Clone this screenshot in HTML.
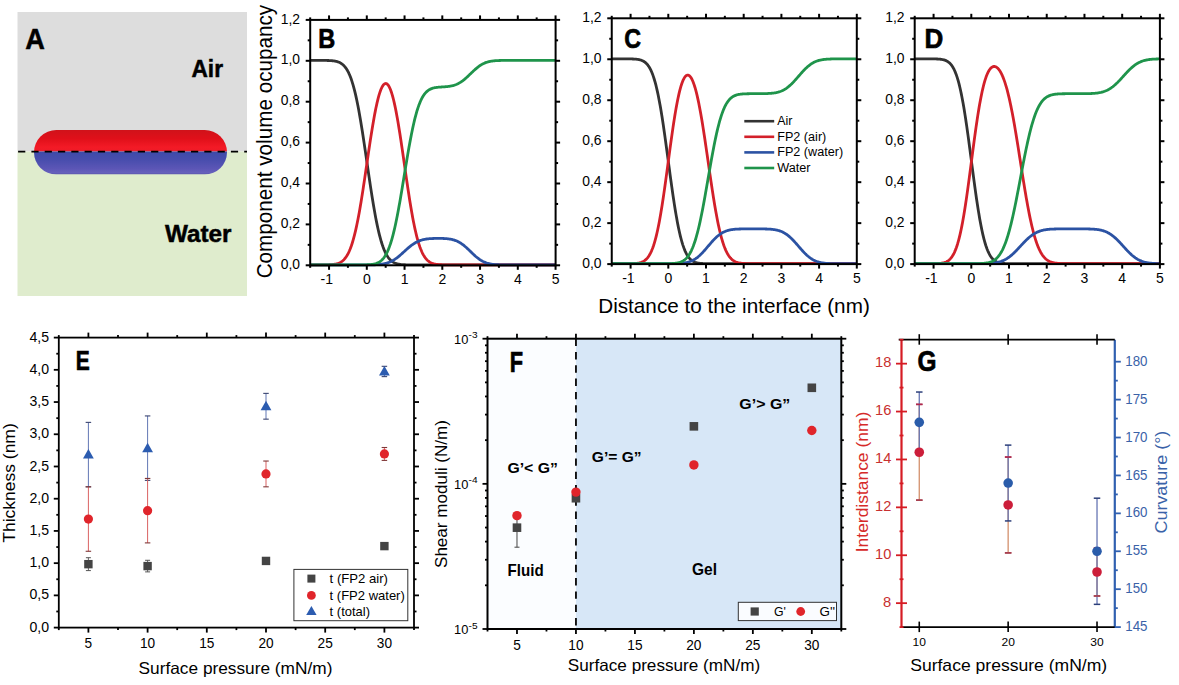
<!DOCTYPE html>
<html><head><meta charset="utf-8"><title>Figure</title>
<style>
html,body{margin:0;padding:0;background:#fff;}
svg{display:block;font-family:"Liberation Sans", sans-serif;}
</style></head>
<body>
<svg width="1179" height="685" viewBox="0 0 1179 685">
<rect x="0" y="0" width="1179" height="685" fill="#fff"/>
<rect x="17.5" y="12" width="229.5" height="139.5" fill="#dddddd"/>
<rect x="17.5" y="151.5" width="229.5" height="144.5" fill="#dfeccd"/>
<defs><linearGradient id="gr" x1="0" y1="0" x2="0" y2="1"><stop offset="0" stop-color="#d0121a"/><stop offset="0.4" stop-color="#e0101a"/><stop offset="0.8" stop-color="#f31a26"/><stop offset="1" stop-color="#ee1c28"/></linearGradient><linearGradient id="gb" x1="0" y1="0" x2="0" y2="1"><stop offset="0" stop-color="#3d4aa8"/><stop offset="0.4" stop-color="#4a4eae"/><stop offset="0.75" stop-color="#5c56b6"/><stop offset="0.92" stop-color="#6660bb"/><stop offset="1" stop-color="#5a54ac"/></linearGradient><clipPath id="capclip"><rect x="34" y="130" width="193" height="44.5" rx="22.25" ry="22.25"/></clipPath></defs>
<g clip-path="url(#capclip)"><rect x="34" y="130" width="193" height="21.5" fill="url(#gr)"/><rect x="34" y="151.5" width="193" height="23.0" fill="url(#gb)"/></g>
<line x1="18.1" y1="151.6" x2="247" y2="151.6" stroke="#000" stroke-width="1.9" stroke-dasharray="7.2 6.1"/>
<text x="25.2" y="49" font-size="29.5" text-anchor="start" fill="#000" font-weight="bold" textLength="19.6" lengthAdjust="spacingAndGlyphs" stroke="#000" stroke-width="0.5">A</text>
<text x="191.5" y="76.8" font-size="23.5" text-anchor="start" fill="#000" font-weight="bold" textLength="31.5" lengthAdjust="spacingAndGlyphs" stroke="#000" stroke-width="0.5">Air</text>
<text x="165" y="241.6" font-size="24.5" text-anchor="start" fill="#000" font-weight="bold" textLength="66.5" lengthAdjust="spacingAndGlyphs" stroke="#000" stroke-width="0.5">Water</text>
<polyline points="310.18,60.4 310.79,60.4 311.4,60.4 312.02,60.4 312.63,60.4 313.24,60.4 313.86,60.4 314.47,60.4 315.08,60.4 315.7,60.4 316.31,60.4 316.92,60.4 317.54,60.4 318.15,60.4 318.76,60.4 319.38,60.41 319.99,60.41 320.6,60.41 321.22,60.41 321.83,60.41 322.44,60.42 323.06,60.42 323.67,60.43 324.28,60.43 324.9,60.44 325.51,60.45 326.12,60.46 326.74,60.47 327.35,60.48 327.96,60.5 328.58,60.52 329.19,60.55 329.81,60.57 330.42,60.61 331.03,60.65 331.65,60.69 332.26,60.75 332.87,60.81 333.49,60.88 334.1,60.96 334.71,61.06 335.33,61.17 335.94,61.3 336.55,61.45 337.17,61.61 337.78,61.8 338.39,62.02 339.01,62.26 339.62,62.54 340.23,62.85 340.85,63.2 341.46,63.59 342.07,64.03 342.69,64.52 343.3,65.07 343.91,65.67 344.53,66.34 345.14,67.07 345.75,67.88 346.37,68.77 346.98,69.74 347.59,70.8 348.21,71.96 348.82,73.21 349.44,74.57 350.05,76.03 350.66,77.61 351.28,79.31 351.89,81.12 352.5,83.06 353.12,85.12 353.73,87.32 354.34,89.64 354.96,92.1 355.57,94.68 356.18,97.4 356.8,100.26 357.41,103.24 358.02,106.35 358.64,109.58 359.25,112.93 359.86,116.4 360.48,119.98 361.09,123.66 361.7,127.44 362.32,131.31 362.93,135.25 363.54,139.27 364.16,143.34 364.77,147.47 365.38,151.64 366,155.84 366.61,160.05 367.22,164.27 367.84,168.49 368.45,172.69 369.06,176.87 369.68,181.01 370.29,185.1 370.91,189.13 371.52,193.09 372.13,196.97 372.75,200.77 373.36,204.48 373.97,208.08 374.59,211.58 375.2,214.96 375.81,218.22 376.43,221.36 377.04,224.37 377.65,227.25 378.27,230 378.88,232.62 379.49,235.11 380.11,237.46 380.72,239.68 381.33,241.78 381.95,243.74 382.56,245.59 383.17,247.31 383.79,248.91 384.4,250.4 385.01,251.78 385.63,253.06 386.24,254.24 386.85,255.32 387.47,256.31 388.08,257.22 388.69,258.05 389.31,258.8 389.92,259.48 390.54,260.1 391.15,260.66 391.76,261.16 392.38,261.61 392.99,262.01 393.6,262.37 394.22,262.69 394.83,262.98 395.44,263.23 396.06,263.45 396.67,263.65 397.28,263.82 397.9,263.97 398.51,264.1 399.12,264.21 399.74,264.31 400.35,264.4 400.96,264.48 401.58,264.54 402.19,264.6 402.8,264.64 403.42,264.68 404.03,264.72 404.64,264.75 405.26,264.77 405.87,264.79 406.48,264.81 407.1,264.83 407.71,264.84 408.33,264.85 408.94,264.86 409.55,264.87 410.17,264.87 410.78,264.88 411.39,264.88 412.01,264.89 412.62,264.89 413.23,264.89 413.85,264.89 414.46,264.89 415.07,264.89 415.69,264.9 416.3,264.9 416.91,264.9 417.53,264.9 418.14,264.9 418.75,264.9 419.37,264.9 419.98,264.9 420.59,264.9 421.21,264.9 421.82,264.9 422.43,264.9 423.05,264.9 423.66,264.9 424.27,264.9 424.89,264.9 425.5,264.9 426.11,264.9 426.73,264.9 427.34,264.9 427.96,264.9 428.57,264.9 429.18,264.9 429.8,264.9 430.41,264.9 431.02,264.9 431.64,264.9 432.25,264.9 432.86,264.9 433.48,264.9 434.09,264.9 434.7,264.9 435.32,264.9 435.93,264.9 436.54,264.9 437.16,264.9 437.77,264.9 438.38,264.9 439,264.9 439.61,264.9 440.22,264.9 440.84,264.9 441.45,264.9 442.06,264.9 442.68,264.9 443.29,264.9 443.9,264.9 444.52,264.9 445.13,264.9 445.74,264.9 446.36,264.9 446.97,264.9 447.59,264.9 448.2,264.9 448.81,264.9 449.43,264.9 450.04,264.9 450.65,264.9 451.27,264.9 451.88,264.9 452.49,264.9 453.11,264.9 453.72,264.9 454.33,264.9 454.95,264.9 455.56,264.9 456.17,264.9 456.79,264.9 457.4,264.9 458.01,264.9 458.63,264.9 459.24,264.9 459.85,264.9 460.47,264.9 461.08,264.9 461.69,264.9 462.31,264.9 462.92,264.9 463.53,264.9 464.15,264.9 464.76,264.9 465.37,264.9 465.99,264.9 466.6,264.9 467.22,264.9 467.83,264.9 468.44,264.9 469.06,264.9 469.67,264.9 470.28,264.9 470.9,264.9 471.51,264.9 472.12,264.9 472.74,264.9 473.35,264.9 473.96,264.9 474.58,264.9 475.19,264.9 475.8,264.9 476.42,264.9 477.03,264.9 477.64,264.9 478.26,264.9 478.87,264.9 479.48,264.9 480.1,264.9 480.71,264.9 481.32,264.9 481.94,264.9 482.55,264.9 483.16,264.9 483.78,264.9 484.39,264.9 485,264.9 485.62,264.9 486.23,264.9 486.85,264.9 487.46,264.9 488.07,264.9 488.69,264.9 489.3,264.9 489.91,264.9 490.53,264.9 491.14,264.9 491.75,264.9 492.37,264.9 492.98,264.9 493.59,264.9 494.21,264.9 494.82,264.9 495.43,264.9 496.05,264.9 496.66,264.9 497.27,264.9 497.89,264.9 498.5,264.9 499.11,264.9 499.73,264.9 500.34,264.9 500.95,264.9 501.57,264.9 502.18,264.9 502.79,264.9 503.41,264.9 504.02,264.9 504.63,264.9 505.25,264.9 505.86,264.9 506.48,264.9 507.09,264.9 507.7,264.9 508.32,264.9 508.93,264.9 509.54,264.9 510.16,264.9 510.77,264.9 511.38,264.9 512,264.9 512.61,264.9 513.22,264.9 513.84,264.9 514.45,264.9 515.06,264.9 515.68,264.9 516.29,264.9 516.9,264.9 517.52,264.9 518.13,264.9 518.74,264.9 519.36,264.9 519.97,264.9 520.58,264.9 521.2,264.9 521.81,264.9 522.42,264.9 523.04,264.9 523.65,264.9 524.26,264.9 524.88,264.9 525.49,264.9 526.11,264.9 526.72,264.9 527.33,264.9 527.95,264.9 528.56,264.9 529.17,264.9 529.79,264.9 530.4,264.9 531.01,264.9 531.63,264.9 532.24,264.9 532.85,264.9 533.47,264.9 534.08,264.9 534.69,264.9 535.31,264.9 535.92,264.9 536.53,264.9 537.15,264.9 537.76,264.9 538.37,264.9 538.99,264.9 539.6,264.9 540.21,264.9 540.83,264.9 541.44,264.9 542.05,264.9 542.67,264.9 543.28,264.9 543.89,264.9 544.51,264.9 545.12,264.9 545.74,264.9 546.35,264.9 546.96,264.9 547.58,264.9 548.19,264.9 548.8,264.9 549.42,264.9 550.03,264.9 550.64,264.9 551.26,264.9 551.87,264.9 552.48,264.9 553.1,264.9 553.71,264.9 554.32,264.9 554.94,264.9 555.55,264.9" fill="none" stroke="#333333" stroke-width="2.8" stroke-linejoin="round"/>
<polyline points="310.18,264.9 310.79,264.9 311.4,264.9 312.02,264.9 312.63,264.9 313.24,264.9 313.86,264.9 314.47,264.9 315.08,264.9 315.7,264.9 316.31,264.9 316.92,264.9 317.54,264.9 318.15,264.9 318.76,264.9 319.38,264.89 319.99,264.89 320.6,264.89 321.22,264.89 321.83,264.89 322.44,264.88 323.06,264.88 323.67,264.87 324.28,264.87 324.9,264.86 325.51,264.85 326.12,264.84 326.74,264.83 327.35,264.82 327.96,264.8 328.58,264.78 329.19,264.75 329.81,264.73 330.42,264.69 331.03,264.65 331.65,264.61 332.26,264.55 332.87,264.49 333.49,264.42 334.1,264.34 334.71,264.24 335.33,264.13 335.94,264 336.55,263.85 337.17,263.69 337.78,263.5 338.39,263.28 339.01,263.04 339.62,262.76 340.23,262.45 340.85,262.1 341.46,261.71 342.07,261.27 342.69,260.78 343.3,260.23 343.91,259.63 344.53,258.96 345.14,258.23 345.75,257.42 346.37,256.53 346.98,255.56 347.59,254.5 348.21,253.34 348.82,252.09 349.44,250.73 350.05,249.27 350.66,247.69 351.28,245.99 351.89,244.18 352.5,242.24 353.12,240.18 353.73,237.99 354.34,235.66 354.96,233.21 355.57,230.62 356.18,227.9 356.8,225.05 357.41,222.07 358.02,218.96 358.64,215.73 359.25,212.38 359.86,208.91 360.48,205.34 361.09,201.66 361.7,197.89 362.32,194.03 362.93,190.09 363.54,186.08 364.16,182.01 364.77,177.9 365.38,173.75 366,169.57 366.61,165.37 367.22,161.18 367.84,156.99 368.45,152.82 369.06,148.69 369.68,144.6 370.29,140.56 370.91,136.6 371.52,132.71 372.13,128.92 372.75,125.22 373.36,121.64 373.97,118.17 374.59,114.83 375.2,111.63 375.81,108.57 376.43,105.67 377.04,102.92 377.65,100.34 378.27,97.93 378.88,95.69 379.49,93.63 380.11,91.75 380.72,90.06 381.33,88.55 381.95,87.24 382.56,86.13 383.17,85.21 383.79,84.48 384.4,83.96 385.01,83.64 385.63,83.51 386.24,83.59 386.85,83.87 387.47,84.35 388.08,85.04 388.69,85.92 389.31,87 389.92,88.28 390.54,89.76 391.15,91.44 391.76,93.3 392.38,95.35 392.99,97.59 393.6,100.01 394.22,102.61 394.83,105.37 395.44,108.31 396.06,111.4 396.67,114.64 397.28,118.02 397.9,121.54 398.51,125.19 399.12,128.95 399.74,132.81 400.35,136.77 400.96,140.81 401.58,144.93 402.19,149.1 402.8,153.31 403.42,157.57 404.03,161.84 404.64,166.12 405.26,170.39 405.87,174.65 406.48,178.88 407.1,183.06 407.71,187.2 408.33,191.27 408.94,195.26 409.55,199.17 410.17,202.99 410.78,206.7 411.39,210.31 412.01,213.8 412.62,217.16 413.23,220.41 413.85,223.52 414.46,226.49 415.07,229.34 415.69,232.04 416.3,234.61 416.91,237.04 417.53,239.33 418.14,241.48 418.75,243.51 419.37,245.4 419.98,247.17 420.59,248.82 421.21,250.34 421.82,251.76 422.43,253.06 423.05,254.26 423.66,255.36 424.27,256.37 424.89,257.29 425.5,258.13 426.11,258.89 426.73,259.58 427.34,260.2 427.96,260.75 428.57,261.26 429.18,261.7 429.8,262.1 430.41,262.46 431.02,262.78 431.64,263.06 432.25,263.3 432.86,263.52 433.48,263.71 434.09,263.88 434.7,264.03 435.32,264.15 435.93,264.26 436.54,264.36 437.16,264.44 437.77,264.51 438.38,264.57 439,264.62 439.61,264.67 440.22,264.71 440.84,264.74 441.45,264.76 442.06,264.79 442.68,264.81 443.29,264.82 443.9,264.84 444.52,264.85 445.13,264.86 445.74,264.86 446.36,264.87 446.97,264.88 447.59,264.88 448.2,264.88 448.81,264.89 449.43,264.89 450.04,264.89 450.65,264.89 451.27,264.89 451.88,264.9 452.49,264.9 453.11,264.9 453.72,264.9 454.33,264.9 454.95,264.9 455.56,264.9 456.17,264.9 456.79,264.9 457.4,264.9 458.01,264.9 458.63,264.9 459.24,264.9 459.85,264.9 460.47,264.9 461.08,264.9 461.69,264.9 462.31,264.9 462.92,264.9 463.53,264.9 464.15,264.9 464.76,264.9 465.37,264.9 465.99,264.9 466.6,264.9 467.22,264.9 467.83,264.9 468.44,264.9 469.06,264.9 469.67,264.9 470.28,264.9 470.9,264.9 471.51,264.9 472.12,264.9 472.74,264.9 473.35,264.9 473.96,264.9 474.58,264.9 475.19,264.9 475.8,264.9 476.42,264.9 477.03,264.9 477.64,264.9 478.26,264.9 478.87,264.9 479.48,264.9 480.1,264.9 480.71,264.9 481.32,264.9 481.94,264.9 482.55,264.9 483.16,264.9 483.78,264.9 484.39,264.9 485,264.9 485.62,264.9 486.23,264.9 486.85,264.9 487.46,264.9 488.07,264.9 488.69,264.9 489.3,264.9 489.91,264.9 490.53,264.9 491.14,264.9 491.75,264.9 492.37,264.9 492.98,264.9 493.59,264.9 494.21,264.9 494.82,264.9 495.43,264.9 496.05,264.9 496.66,264.9 497.27,264.9 497.89,264.9 498.5,264.9 499.11,264.9 499.73,264.9 500.34,264.9 500.95,264.9 501.57,264.9 502.18,264.9 502.79,264.9 503.41,264.9 504.02,264.9 504.63,264.9 505.25,264.9 505.86,264.9 506.48,264.9 507.09,264.9 507.7,264.9 508.32,264.9 508.93,264.9 509.54,264.9 510.16,264.9 510.77,264.9 511.38,264.9 512,264.9 512.61,264.9 513.22,264.9 513.84,264.9 514.45,264.9 515.06,264.9 515.68,264.9 516.29,264.9 516.9,264.9 517.52,264.9 518.13,264.9 518.74,264.9 519.36,264.9 519.97,264.9 520.58,264.9 521.2,264.9 521.81,264.9 522.42,264.9 523.04,264.9 523.65,264.9 524.26,264.9 524.88,264.9 525.49,264.9 526.11,264.9 526.72,264.9 527.33,264.9 527.95,264.9 528.56,264.9 529.17,264.9 529.79,264.9 530.4,264.9 531.01,264.9 531.63,264.9 532.24,264.9 532.85,264.9 533.47,264.9 534.08,264.9 534.69,264.9 535.31,264.9 535.92,264.9 536.53,264.9 537.15,264.9 537.76,264.9 538.37,264.9 538.99,264.9 539.6,264.9 540.21,264.9 540.83,264.9 541.44,264.9 542.05,264.9 542.67,264.9 543.28,264.9 543.89,264.9 544.51,264.9 545.12,264.9 545.74,264.9 546.35,264.9 546.96,264.9 547.58,264.9 548.19,264.9 548.8,264.9 549.42,264.9 550.03,264.9 550.64,264.9 551.26,264.9 551.87,264.9 552.48,264.9 553.1,264.9 553.71,264.9 554.32,264.9 554.94,264.9 555.55,264.9" fill="none" stroke="#d3202a" stroke-width="2.8" stroke-linejoin="round"/>
<polyline points="310.18,264.9 310.79,264.9 311.4,264.9 312.02,264.9 312.63,264.9 313.24,264.9 313.86,264.9 314.47,264.9 315.08,264.9 315.7,264.9 316.31,264.9 316.92,264.9 317.54,264.9 318.15,264.9 318.76,264.9 319.38,264.9 319.99,264.9 320.6,264.9 321.22,264.9 321.83,264.9 322.44,264.9 323.06,264.9 323.67,264.9 324.28,264.9 324.9,264.9 325.51,264.9 326.12,264.9 326.74,264.9 327.35,264.9 327.96,264.9 328.58,264.9 329.19,264.9 329.81,264.9 330.42,264.9 331.03,264.9 331.65,264.9 332.26,264.9 332.87,264.9 333.49,264.9 334.1,264.9 334.71,264.9 335.33,264.9 335.94,264.9 336.55,264.9 337.17,264.9 337.78,264.9 338.39,264.9 339.01,264.9 339.62,264.9 340.23,264.9 340.85,264.9 341.46,264.9 342.07,264.9 342.69,264.9 343.3,264.9 343.91,264.9 344.53,264.9 345.14,264.9 345.75,264.9 346.37,264.9 346.98,264.9 347.59,264.9 348.21,264.9 348.82,264.9 349.44,264.9 350.05,264.9 350.66,264.9 351.28,264.9 351.89,264.9 352.5,264.9 353.12,264.9 353.73,264.9 354.34,264.9 354.96,264.9 355.57,264.9 356.18,264.9 356.8,264.9 357.41,264.9 358.02,264.9 358.64,264.9 359.25,264.9 359.86,264.9 360.48,264.9 361.09,264.9 361.7,264.9 362.32,264.9 362.93,264.89 363.54,264.89 364.16,264.89 364.77,264.89 365.38,264.89 366,264.89 366.61,264.88 367.22,264.88 367.84,264.88 368.45,264.87 369.06,264.87 369.68,264.86 370.29,264.85 370.91,264.84 371.52,264.83 372.13,264.82 372.75,264.81 373.36,264.79 373.97,264.78 374.59,264.76 375.2,264.73 375.81,264.71 376.43,264.68 377.04,264.64 377.65,264.6 378.27,264.56 378.88,264.51 379.49,264.45 380.11,264.39 380.72,264.32 381.33,264.25 381.95,264.16 382.56,264.07 383.17,263.96 383.79,263.85 384.4,263.72 385.01,263.58 385.63,263.43 386.24,263.27 386.85,263.09 387.47,262.9 388.08,262.7 388.69,262.47 389.31,262.23 389.92,261.98 390.54,261.71 391.15,261.42 391.76,261.11 392.38,260.78 392.99,260.44 393.6,260.08 394.22,259.7 394.83,259.3 395.44,258.89 396.06,258.46 396.67,258.01 397.28,257.55 397.9,257.07 398.51,256.58 399.12,256.08 399.74,255.56 400.35,255.04 400.96,254.5 401.58,253.96 402.19,253.41 402.8,252.85 403.42,252.3 404.03,251.74 404.64,251.18 405.26,250.62 405.87,250.06 406.48,249.51 407.1,248.96 407.71,248.42 408.33,247.89 408.94,247.37 409.55,246.86 410.17,246.37 410.78,245.88 411.39,245.41 412.01,244.96 412.62,244.52 413.23,244.1 413.85,243.7 414.46,243.31 415.07,242.94 415.69,242.59 416.3,242.25 416.91,241.94 417.53,241.64 418.14,241.36 418.75,241.1 419.37,240.85 419.98,240.62 420.59,240.41 421.21,240.21 421.82,240.02 422.43,239.85 423.05,239.7 423.66,239.56 424.27,239.42 424.89,239.3 425.5,239.2 426.11,239.1 426.73,239.01 427.34,238.93 427.96,238.86 428.57,238.79 429.18,238.73 429.8,238.68 430.41,238.64 431.02,238.59 431.64,238.56 432.25,238.53 432.86,238.5 433.48,238.48 434.09,238.46 434.7,238.44 435.32,238.43 435.93,238.42 436.54,238.41 437.16,238.4 437.77,238.4 438.38,238.4 439,238.4 439.61,238.41 440.22,238.41 440.84,238.42 441.45,238.44 442.06,238.45 442.68,238.47 443.29,238.49 443.9,238.52 444.52,238.55 445.13,238.59 445.74,238.63 446.36,238.67 446.97,238.73 447.59,238.79 448.2,238.86 448.81,238.93 449.43,239.02 450.04,239.12 450.65,239.22 451.27,239.34 451.88,239.47 452.49,239.62 453.11,239.77 453.72,239.95 454.33,240.13 454.95,240.34 455.56,240.56 456.17,240.8 456.79,241.06 457.4,241.34 458.01,241.63 458.63,241.95 459.24,242.29 459.85,242.64 460.47,243.02 461.08,243.42 461.69,243.83 462.31,244.27 462.92,244.72 463.53,245.2 464.15,245.69 464.76,246.2 465.37,246.72 465.99,247.26 466.6,247.81 467.22,248.37 467.83,248.94 468.44,249.52 469.06,250.1 469.67,250.69 470.28,251.29 470.9,251.88 471.51,252.48 472.12,253.07 472.74,253.65 473.35,254.23 473.96,254.8 474.58,255.37 475.19,255.92 475.8,256.46 476.42,256.98 477.03,257.49 477.64,257.98 478.26,258.45 478.87,258.91 479.48,259.35 480.1,259.77 480.71,260.17 481.32,260.54 481.94,260.9 482.55,261.24 483.16,261.56 483.78,261.86 484.39,262.13 485,262.39 485.62,262.64 486.23,262.86 486.85,263.07 487.46,263.26 488.07,263.43 488.69,263.59 489.3,263.73 489.91,263.87 490.53,263.99 491.14,264.09 491.75,264.19 492.37,264.28 492.98,264.36 493.59,264.42 494.21,264.49 494.82,264.54 495.43,264.59 496.05,264.63 496.66,264.67 497.27,264.7 497.89,264.73 498.5,264.76 499.11,264.78 499.73,264.8 500.34,264.81 500.95,264.83 501.57,264.84 502.18,264.85 502.79,264.86 503.41,264.86 504.02,264.87 504.63,264.88 505.25,264.88 505.86,264.88 506.48,264.89 507.09,264.89 507.7,264.89 508.32,264.89 508.93,264.89 509.54,264.9 510.16,264.9 510.77,264.9 511.38,264.9 512,264.9 512.61,264.9 513.22,264.9 513.84,264.9 514.45,264.9 515.06,264.9 515.68,264.9 516.29,264.9 516.9,264.9 517.52,264.9 518.13,264.9 518.74,264.9 519.36,264.9 519.97,264.9 520.58,264.9 521.2,264.9 521.81,264.9 522.42,264.9 523.04,264.9 523.65,264.9 524.26,264.9 524.88,264.9 525.49,264.9 526.11,264.9 526.72,264.9 527.33,264.9 527.95,264.9 528.56,264.9 529.17,264.9 529.79,264.9 530.4,264.9 531.01,264.9 531.63,264.9 532.24,264.9 532.85,264.9 533.47,264.9 534.08,264.9 534.69,264.9 535.31,264.9 535.92,264.9 536.53,264.9 537.15,264.9 537.76,264.9 538.37,264.9 538.99,264.9 539.6,264.9 540.21,264.9 540.83,264.9 541.44,264.9 542.05,264.9 542.67,264.9 543.28,264.9 543.89,264.9 544.51,264.9 545.12,264.9 545.74,264.9 546.35,264.9 546.96,264.9 547.58,264.9 548.19,264.9 548.8,264.9 549.42,264.9 550.03,264.9 550.64,264.9 551.26,264.9 551.87,264.9 552.48,264.9 553.1,264.9 553.71,264.9 554.32,264.9 554.94,264.9 555.55,264.9" fill="none" stroke="#2b52a3" stroke-width="2.8" stroke-linejoin="round"/>
<polyline points="310.18,264.9 310.79,264.9 311.4,264.9 312.02,264.9 312.63,264.9 313.24,264.9 313.86,264.9 314.47,264.9 315.08,264.9 315.7,264.9 316.31,264.9 316.92,264.9 317.54,264.9 318.15,264.9 318.76,264.9 319.38,264.9 319.99,264.9 320.6,264.9 321.22,264.9 321.83,264.9 322.44,264.9 323.06,264.9 323.67,264.9 324.28,264.9 324.9,264.9 325.51,264.9 326.12,264.9 326.74,264.9 327.35,264.9 327.96,264.9 328.58,264.9 329.19,264.9 329.81,264.9 330.42,264.9 331.03,264.9 331.65,264.9 332.26,264.9 332.87,264.9 333.49,264.9 334.1,264.9 334.71,264.9 335.33,264.9 335.94,264.9 336.55,264.9 337.17,264.9 337.78,264.9 338.39,264.9 339.01,264.9 339.62,264.9 340.23,264.9 340.85,264.9 341.46,264.9 342.07,264.9 342.69,264.9 343.3,264.9 343.91,264.9 344.53,264.9 345.14,264.9 345.75,264.9 346.37,264.9 346.98,264.9 347.59,264.9 348.21,264.9 348.82,264.9 349.44,264.9 350.05,264.9 350.66,264.9 351.28,264.9 351.89,264.9 352.5,264.9 353.12,264.9 353.73,264.9 354.34,264.9 354.96,264.9 355.57,264.9 356.18,264.9 356.8,264.9 357.41,264.89 358.02,264.89 358.64,264.89 359.25,264.89 359.86,264.89 360.48,264.89 361.09,264.88 361.7,264.88 362.32,264.87 362.93,264.87 363.54,264.86 364.16,264.85 364.77,264.84 365.38,264.83 366,264.81 366.61,264.79 367.22,264.77 367.84,264.74 368.45,264.71 369.06,264.68 369.68,264.64 370.29,264.59 370.91,264.53 371.52,264.46 372.13,264.38 372.75,264.3 373.36,264.19 373.97,264.07 374.59,263.94 375.2,263.78 375.81,263.6 376.43,263.4 377.04,263.17 377.65,262.91 378.27,262.62 378.88,262.29 379.49,261.92 380.11,261.5 380.72,261.04 381.33,260.52 381.95,259.95 382.56,259.32 383.17,258.62 383.79,257.86 384.4,257.02 385.01,256.1 385.63,255.09 386.24,254 386.85,252.82 387.47,251.53 388.08,250.15 388.69,248.66 389.31,247.06 389.92,245.35 390.54,243.53 391.15,241.59 391.76,239.53 392.38,237.35 392.99,235.06 393.6,232.64 394.22,230.1 394.83,227.45 395.44,224.68 396.06,221.79 396.67,218.8 397.28,215.71 397.9,212.52 398.51,209.23 399.12,205.86 399.74,202.41 400.35,198.89 400.96,195.31 401.58,191.68 402.19,188 402.8,184.29 403.42,180.55 404.03,176.81 404.64,173.06 405.26,169.32 405.87,165.6 406.48,161.9 407.1,158.25 407.71,154.64 408.33,151.09 408.94,147.61 409.55,144.2 410.17,140.87 410.78,137.64 411.39,134.5 412.01,131.46 412.62,128.53 413.23,125.7 413.85,122.99 414.46,120.4 415.07,117.93 415.69,115.58 416.3,113.34 416.91,111.23 417.53,109.23 418.14,107.36 418.75,105.6 419.37,103.95 419.98,102.41 420.59,100.98 421.21,99.65 421.82,98.42 422.43,97.29 423.05,96.24 423.66,95.28 424.27,94.41 424.89,93.6 425.5,92.88 426.11,92.22 426.73,91.62 427.34,91.08 427.96,90.59 428.57,90.15 429.18,89.76 429.8,89.41 430.41,89.1 431.02,88.83 431.64,88.58 432.25,88.37 432.86,88.18 433.48,88.01 434.09,87.86 434.7,87.73 435.32,87.62 435.93,87.52 436.54,87.43 437.16,87.36 437.77,87.29 438.38,87.23 439,87.17 439.61,87.13 440.22,87.08 440.84,87.04 441.45,87 442.06,86.96 442.68,86.92 443.29,86.89 443.9,86.85 444.52,86.8 445.13,86.76 445.74,86.71 446.36,86.66 446.97,86.6 447.59,86.53 448.2,86.46 448.81,86.38 449.43,86.29 450.04,86.19 450.65,86.08 451.27,85.96 451.88,85.83 452.49,85.69 453.11,85.53 453.72,85.36 454.33,85.17 454.95,84.96 455.56,84.74 456.17,84.5 456.79,84.24 457.4,83.96 458.01,83.67 458.63,83.35 459.24,83.01 459.85,82.66 460.47,82.28 461.08,81.88 461.69,81.47 462.31,81.03 462.92,80.58 463.53,80.1 464.15,79.61 464.76,79.1 465.37,78.58 465.99,78.04 466.6,77.49 467.22,76.93 467.83,76.36 468.44,75.78 469.06,75.2 469.67,74.61 470.28,74.01 470.9,73.42 471.51,72.82 472.12,72.23 472.74,71.65 473.35,71.07 473.96,70.5 474.58,69.93 475.19,69.38 475.8,68.84 476.42,68.32 477.03,67.81 477.64,67.32 478.26,66.85 478.87,66.39 479.48,65.95 480.1,65.53 480.71,65.13 481.32,64.76 481.94,64.4 482.55,64.06 483.16,63.74 483.78,63.44 484.39,63.17 485,62.91 485.62,62.66 486.23,62.44 486.85,62.23 487.46,62.04 488.07,61.87 488.69,61.71 489.3,61.57 489.91,61.43 490.53,61.31 491.14,61.21 491.75,61.11 492.37,61.02 492.98,60.94 493.59,60.88 494.21,60.81 494.82,60.76 495.43,60.71 496.05,60.67 496.66,60.63 497.27,60.6 497.89,60.57 498.5,60.54 499.11,60.52 499.73,60.5 500.34,60.49 500.95,60.47 501.57,60.46 502.18,60.45 502.79,60.44 503.41,60.44 504.02,60.43 504.63,60.42 505.25,60.42 505.86,60.42 506.48,60.41 507.09,60.41 507.7,60.41 508.32,60.41 508.93,60.41 509.54,60.4 510.16,60.4 510.77,60.4 511.38,60.4 512,60.4 512.61,60.4 513.22,60.4 513.84,60.4 514.45,60.4 515.06,60.4 515.68,60.4 516.29,60.4 516.9,60.4 517.52,60.4 518.13,60.4 518.74,60.4 519.36,60.4 519.97,60.4 520.58,60.4 521.2,60.4 521.81,60.4 522.42,60.4 523.04,60.4 523.65,60.4 524.26,60.4 524.88,60.4 525.49,60.4 526.11,60.4 526.72,60.4 527.33,60.4 527.95,60.4 528.56,60.4 529.17,60.4 529.79,60.4 530.4,60.4 531.01,60.4 531.63,60.4 532.24,60.4 532.85,60.4 533.47,60.4 534.08,60.4 534.69,60.4 535.31,60.4 535.92,60.4 536.53,60.4 537.15,60.4 537.76,60.4 538.37,60.4 538.99,60.4 539.6,60.4 540.21,60.4 540.83,60.4 541.44,60.4 542.05,60.4 542.67,60.4 543.28,60.4 543.89,60.4 544.51,60.4 545.12,60.4 545.74,60.4 546.35,60.4 546.96,60.4 547.58,60.4 548.19,60.4 548.8,60.4 549.42,60.4 550.03,60.4 550.64,60.4 551.26,60.4 551.87,60.4 552.48,60.4 553.1,60.4 553.71,60.4 554.32,60.4 554.94,60.4 555.55,60.4" fill="none" stroke="#1f944b" stroke-width="2.8" stroke-linejoin="round"/>
<rect x="310.2" y="19.9" width="245.4" height="245.4" fill="none" stroke="#000" stroke-width="2"/>
<line x1="305.7" y1="265.3" x2="310.2" y2="265.3" stroke="#000" stroke-width="2" />
<line x1="555.6" y1="265.3" x2="560.1" y2="265.3" stroke="#000" stroke-width="2" />
<text x="300" y="268.9" font-size="14" text-anchor="end" fill="#000" textLength="19.3" lengthAdjust="spacingAndGlyphs" >0,0</text>
<line x1="307.7" y1="244.85" x2="310.2" y2="244.85" stroke="#000" stroke-width="2" />
<line x1="555.6" y1="244.85" x2="558.1" y2="244.85" stroke="#000" stroke-width="2" />
<line x1="305.7" y1="224.4" x2="310.2" y2="224.4" stroke="#000" stroke-width="2" />
<line x1="555.6" y1="224.4" x2="560.1" y2="224.4" stroke="#000" stroke-width="2" />
<text x="300" y="228" font-size="14" text-anchor="end" fill="#000" textLength="19.3" lengthAdjust="spacingAndGlyphs" >0,2</text>
<line x1="307.7" y1="203.95" x2="310.2" y2="203.95" stroke="#000" stroke-width="2" />
<line x1="555.6" y1="203.95" x2="558.1" y2="203.95" stroke="#000" stroke-width="2" />
<line x1="305.7" y1="183.5" x2="310.2" y2="183.5" stroke="#000" stroke-width="2" />
<line x1="555.6" y1="183.5" x2="560.1" y2="183.5" stroke="#000" stroke-width="2" />
<text x="300" y="187.1" font-size="14" text-anchor="end" fill="#000" textLength="19.3" lengthAdjust="spacingAndGlyphs" >0,4</text>
<line x1="307.7" y1="163.05" x2="310.2" y2="163.05" stroke="#000" stroke-width="2" />
<line x1="555.6" y1="163.05" x2="558.1" y2="163.05" stroke="#000" stroke-width="2" />
<line x1="305.7" y1="142.6" x2="310.2" y2="142.6" stroke="#000" stroke-width="2" />
<line x1="555.6" y1="142.6" x2="560.1" y2="142.6" stroke="#000" stroke-width="2" />
<text x="300" y="146.2" font-size="14" text-anchor="end" fill="#000" textLength="19.3" lengthAdjust="spacingAndGlyphs" >0,6</text>
<line x1="307.7" y1="122.15" x2="310.2" y2="122.15" stroke="#000" stroke-width="2" />
<line x1="555.6" y1="122.15" x2="558.1" y2="122.15" stroke="#000" stroke-width="2" />
<line x1="305.7" y1="101.7" x2="310.2" y2="101.7" stroke="#000" stroke-width="2" />
<line x1="555.6" y1="101.7" x2="560.1" y2="101.7" stroke="#000" stroke-width="2" />
<text x="300" y="105.3" font-size="14" text-anchor="end" fill="#000" textLength="19.3" lengthAdjust="spacingAndGlyphs" >0,8</text>
<line x1="307.7" y1="81.25" x2="310.2" y2="81.25" stroke="#000" stroke-width="2" />
<line x1="555.6" y1="81.25" x2="558.1" y2="81.25" stroke="#000" stroke-width="2" />
<line x1="305.7" y1="60.8" x2="310.2" y2="60.8" stroke="#000" stroke-width="2" />
<line x1="555.6" y1="60.8" x2="560.1" y2="60.8" stroke="#000" stroke-width="2" />
<text x="300" y="64.4" font-size="14" text-anchor="end" fill="#000" textLength="19.3" lengthAdjust="spacingAndGlyphs" >1,0</text>
<line x1="307.7" y1="40.35" x2="310.2" y2="40.35" stroke="#000" stroke-width="2" />
<line x1="555.6" y1="40.35" x2="558.1" y2="40.35" stroke="#000" stroke-width="2" />
<line x1="305.7" y1="19.9" x2="310.2" y2="19.9" stroke="#000" stroke-width="2" />
<line x1="555.6" y1="19.9" x2="560.1" y2="19.9" stroke="#000" stroke-width="2" />
<text x="300" y="23.5" font-size="14" text-anchor="end" fill="#000" textLength="19.3" lengthAdjust="spacingAndGlyphs" >1,2</text>
<line x1="310.18" y1="265.3" x2="310.18" y2="267.8" stroke="#000" stroke-width="2" />
<line x1="310.18" y1="17.4" x2="310.18" y2="19.9" stroke="#000" stroke-width="2" />
<line x1="329.05" y1="265.3" x2="329.05" y2="269.8" stroke="#000" stroke-width="2" />
<line x1="329.05" y1="15.4" x2="329.05" y2="19.9" stroke="#000" stroke-width="2" />
<text x="326.85" y="283.9" font-size="14" text-anchor="middle" fill="#000" >-1</text>
<line x1="347.93" y1="265.3" x2="347.93" y2="267.8" stroke="#000" stroke-width="2" />
<line x1="347.93" y1="17.4" x2="347.93" y2="19.9" stroke="#000" stroke-width="2" />
<line x1="366.8" y1="265.3" x2="366.8" y2="269.8" stroke="#000" stroke-width="2" />
<line x1="366.8" y1="15.4" x2="366.8" y2="19.9" stroke="#000" stroke-width="2" />
<text x="366.8" y="283.9" font-size="14" text-anchor="middle" fill="#000" >0</text>
<line x1="385.68" y1="265.3" x2="385.68" y2="267.8" stroke="#000" stroke-width="2" />
<line x1="385.68" y1="17.4" x2="385.68" y2="19.9" stroke="#000" stroke-width="2" />
<line x1="404.55" y1="265.3" x2="404.55" y2="269.8" stroke="#000" stroke-width="2" />
<line x1="404.55" y1="15.4" x2="404.55" y2="19.9" stroke="#000" stroke-width="2" />
<text x="404.55" y="283.9" font-size="14" text-anchor="middle" fill="#000" >1</text>
<line x1="423.43" y1="265.3" x2="423.43" y2="267.8" stroke="#000" stroke-width="2" />
<line x1="423.43" y1="17.4" x2="423.43" y2="19.9" stroke="#000" stroke-width="2" />
<line x1="442.3" y1="265.3" x2="442.3" y2="269.8" stroke="#000" stroke-width="2" />
<line x1="442.3" y1="15.4" x2="442.3" y2="19.9" stroke="#000" stroke-width="2" />
<text x="442.3" y="283.9" font-size="14" text-anchor="middle" fill="#000" >2</text>
<line x1="461.18" y1="265.3" x2="461.18" y2="267.8" stroke="#000" stroke-width="2" />
<line x1="461.18" y1="17.4" x2="461.18" y2="19.9" stroke="#000" stroke-width="2" />
<line x1="480.05" y1="265.3" x2="480.05" y2="269.8" stroke="#000" stroke-width="2" />
<line x1="480.05" y1="15.4" x2="480.05" y2="19.9" stroke="#000" stroke-width="2" />
<text x="480.05" y="283.9" font-size="14" text-anchor="middle" fill="#000" >3</text>
<line x1="498.93" y1="265.3" x2="498.93" y2="267.8" stroke="#000" stroke-width="2" />
<line x1="498.93" y1="17.4" x2="498.93" y2="19.9" stroke="#000" stroke-width="2" />
<line x1="517.8" y1="265.3" x2="517.8" y2="269.8" stroke="#000" stroke-width="2" />
<line x1="517.8" y1="15.4" x2="517.8" y2="19.9" stroke="#000" stroke-width="2" />
<text x="517.8" y="283.9" font-size="14" text-anchor="middle" fill="#000" >4</text>
<line x1="536.67" y1="265.3" x2="536.67" y2="267.8" stroke="#000" stroke-width="2" />
<line x1="536.67" y1="17.4" x2="536.67" y2="19.9" stroke="#000" stroke-width="2" />
<line x1="555.55" y1="265.3" x2="555.55" y2="269.8" stroke="#000" stroke-width="2" />
<line x1="555.55" y1="15.4" x2="555.55" y2="19.9" stroke="#000" stroke-width="2" />
<text x="555.55" y="283.9" font-size="14" text-anchor="middle" fill="#000" >5</text>
<text x="318.2" y="48" font-size="28" text-anchor="start" fill="#000" font-weight="bold" textLength="17" lengthAdjust="spacingAndGlyphs" stroke="#000" stroke-width="0.7">B</text>
<polyline points="611.75,58.87 612.36,58.87 612.98,58.87 613.59,58.87 614.2,58.87 614.81,58.87 615.43,58.87 616.04,58.87 616.65,58.87 617.26,58.87 617.88,58.87 618.49,58.87 619.1,58.87 619.71,58.87 620.33,58.87 620.94,58.87 621.55,58.87 622.16,58.87 622.78,58.87 623.39,58.87 624,58.87 624.62,58.87 625.23,58.87 625.84,58.88 626.45,58.88 627.07,58.88 627.68,58.89 628.29,58.89 628.9,58.9 629.52,58.91 630.13,58.92 630.74,58.93 631.35,58.94 631.97,58.96 632.58,58.98 633.19,59 633.8,59.03 634.42,59.06 635.03,59.11 635.64,59.15 636.25,59.21 636.87,59.28 637.48,59.36 638.09,59.45 638.71,59.56 639.32,59.69 639.93,59.83 640.54,60 641.16,60.2 641.77,60.42 642.38,60.68 642.99,60.98 643.61,61.31 644.22,61.69 644.83,62.12 645.44,62.61 646.06,63.15 646.67,63.76 647.28,64.45 647.89,65.21 648.51,66.05 649.12,66.99 649.73,68.02 650.35,69.15 650.96,70.4 651.57,71.76 652.18,73.24 652.8,74.85 653.41,76.59 654.02,78.47 654.63,80.49 655.25,82.66 655.86,84.98 656.47,87.46 657.08,90.08 657.7,92.87 658.31,95.81 658.92,98.9 659.53,102.15 660.15,105.54 660.76,109.08 661.37,112.76 661.99,116.57 662.6,120.51 663.21,124.56 663.82,128.72 664.44,132.98 665.05,137.33 665.66,141.74 666.27,146.22 666.89,150.74 667.5,155.3 668.11,159.87 668.72,164.45 669.34,169.02 669.95,173.57 670.56,178.08 671.17,182.53 671.79,186.92 672.4,191.23 673.01,195.45 673.63,199.58 674.24,203.59 674.85,207.48 675.46,211.24 676.08,214.87 676.69,218.35 677.3,221.69 677.91,224.87 678.53,227.91 679.14,230.79 679.75,233.51 680.36,236.08 680.98,238.49 681.59,240.76 682.2,242.87 682.81,244.84 683.43,246.66 684.04,248.35 684.65,249.91 685.26,251.35 685.88,252.66 686.49,253.86 687.1,254.96 687.72,255.95 688.33,256.85 688.94,257.66 689.55,258.39 690.17,259.05 690.78,259.63 691.39,260.15 692,260.62 692.62,261.03 693.23,261.39 693.84,261.71 694.45,261.99 695.07,262.23 695.68,262.45 696.29,262.63 696.9,262.79 697.52,262.93 698.13,263.05 698.74,263.15 699.36,263.24 699.97,263.31 700.58,263.38 701.19,263.43 701.81,263.48 702.42,263.52 703.03,263.55 703.64,263.57 704.26,263.6 704.87,263.62 705.48,263.63 706.09,263.64 706.71,263.65 707.32,263.66 707.93,263.67 708.54,263.68 709.16,263.68 709.77,263.68 710.38,263.69 711,263.69 711.61,263.69 712.22,263.69 712.83,263.7 713.45,263.7 714.06,263.7 714.67,263.7 715.28,263.7 715.9,263.7 716.51,263.7 717.12,263.7 717.73,263.7 718.35,263.7 718.96,263.7 719.57,263.7 720.18,263.7 720.8,263.7 721.41,263.7 722.02,263.7 722.64,263.7 723.25,263.7 723.86,263.7 724.47,263.7 725.09,263.7 725.7,263.7 726.31,263.7 726.92,263.7 727.54,263.7 728.15,263.7 728.76,263.7 729.37,263.7 729.99,263.7 730.6,263.7 731.21,263.7 731.82,263.7 732.44,263.7 733.05,263.7 733.66,263.7 734.27,263.7 734.89,263.7 735.5,263.7 736.11,263.7 736.73,263.7 737.34,263.7 737.95,263.7 738.56,263.7 739.18,263.7 739.79,263.7 740.4,263.7 741.01,263.7 741.63,263.7 742.24,263.7 742.85,263.7 743.46,263.7 744.08,263.7 744.69,263.7 745.3,263.7 745.91,263.7 746.53,263.7 747.14,263.7 747.75,263.7 748.37,263.7 748.98,263.7 749.59,263.7 750.2,263.7 750.82,263.7 751.43,263.7 752.04,263.7 752.65,263.7 753.27,263.7 753.88,263.7 754.49,263.7 755.1,263.7 755.72,263.7 756.33,263.7 756.94,263.7 757.55,263.7 758.17,263.7 758.78,263.7 759.39,263.7 760.01,263.7 760.62,263.7 761.23,263.7 761.84,263.7 762.46,263.7 763.07,263.7 763.68,263.7 764.29,263.7 764.91,263.7 765.52,263.7 766.13,263.7 766.74,263.7 767.36,263.7 767.97,263.7 768.58,263.7 769.19,263.7 769.81,263.7 770.42,263.7 771.03,263.7 771.65,263.7 772.26,263.7 772.87,263.7 773.48,263.7 774.1,263.7 774.71,263.7 775.32,263.7 775.93,263.7 776.55,263.7 777.16,263.7 777.77,263.7 778.38,263.7 779,263.7 779.61,263.7 780.22,263.7 780.83,263.7 781.45,263.7 782.06,263.7 782.67,263.7 783.28,263.7 783.9,263.7 784.51,263.7 785.12,263.7 785.74,263.7 786.35,263.7 786.96,263.7 787.57,263.7 788.19,263.7 788.8,263.7 789.41,263.7 790.02,263.7 790.64,263.7 791.25,263.7 791.86,263.7 792.47,263.7 793.09,263.7 793.7,263.7 794.31,263.7 794.92,263.7 795.54,263.7 796.15,263.7 796.76,263.7 797.38,263.7 797.99,263.7 798.6,263.7 799.21,263.7 799.83,263.7 800.44,263.7 801.05,263.7 801.66,263.7 802.28,263.7 802.89,263.7 803.5,263.7 804.11,263.7 804.73,263.7 805.34,263.7 805.95,263.7 806.56,263.7 807.18,263.7 807.79,263.7 808.4,263.7 809.02,263.7 809.63,263.7 810.24,263.7 810.85,263.7 811.47,263.7 812.08,263.7 812.69,263.7 813.3,263.7 813.92,263.7 814.53,263.7 815.14,263.7 815.75,263.7 816.37,263.7 816.98,263.7 817.59,263.7 818.2,263.7 818.82,263.7 819.43,263.7 820.04,263.7 820.66,263.7 821.27,263.7 821.88,263.7 822.49,263.7 823.11,263.7 823.72,263.7 824.33,263.7 824.94,263.7 825.56,263.7 826.17,263.7 826.78,263.7 827.39,263.7 828.01,263.7 828.62,263.7 829.23,263.7 829.84,263.7 830.46,263.7 831.07,263.7 831.68,263.7 832.29,263.7 832.91,263.7 833.52,263.7 834.13,263.7 834.75,263.7 835.36,263.7 835.97,263.7 836.58,263.7 837.2,263.7 837.81,263.7 838.42,263.7 839.03,263.7 839.65,263.7 840.26,263.7 840.87,263.7 841.48,263.7 842.1,263.7 842.71,263.7 843.32,263.7 843.93,263.7 844.55,263.7 845.16,263.7 845.77,263.7 846.39,263.7 847,263.7 847.61,263.7 848.22,263.7 848.84,263.7 849.45,263.7 850.06,263.7 850.67,263.7 851.29,263.7 851.9,263.7 852.51,263.7 853.12,263.7 853.74,263.7 854.35,263.7 854.96,263.7 855.57,263.7 856.19,263.7 856.8,263.7" fill="none" stroke="#333333" stroke-width="2.8" stroke-linejoin="round"/>
<polyline points="611.75,263.7 612.36,263.7 612.98,263.7 613.59,263.7 614.2,263.7 614.81,263.7 615.43,263.7 616.04,263.7 616.65,263.7 617.26,263.7 617.88,263.7 618.49,263.7 619.1,263.7 619.71,263.7 620.33,263.7 620.94,263.7 621.55,263.7 622.16,263.7 622.78,263.7 623.39,263.7 624,263.69 624.62,263.69 625.23,263.69 625.84,263.69 626.45,263.69 627.07,263.68 627.68,263.68 628.29,263.67 628.9,263.67 629.52,263.66 630.13,263.65 630.74,263.64 631.35,263.63 631.97,263.61 632.58,263.59 633.19,263.57 633.8,263.54 634.42,263.5 635.03,263.46 635.64,263.41 636.25,263.35 636.87,263.29 637.48,263.21 638.09,263.11 638.71,263.01 639.32,262.88 639.93,262.73 640.54,262.56 641.16,262.37 641.77,262.14 642.38,261.89 642.99,261.59 643.61,261.26 644.22,260.88 644.83,260.45 645.44,259.96 646.06,259.41 646.67,258.8 647.28,258.12 647.89,257.36 648.51,256.51 649.12,255.58 649.73,254.55 650.35,253.41 650.96,252.17 651.57,250.81 652.18,249.33 652.8,247.72 653.41,245.98 654.02,244.1 654.63,242.07 655.25,239.9 655.86,237.58 656.47,235.11 657.08,232.48 657.7,229.7 658.31,226.76 658.92,223.67 659.53,220.42 660.15,217.03 660.76,213.49 661.37,209.81 661.99,206 662.6,202.07 663.21,198.02 663.82,193.86 664.44,189.6 665.05,185.27 665.66,180.85 666.27,176.38 666.89,171.87 667.5,167.32 668.11,162.76 668.72,158.19 669.34,153.64 669.95,149.12 670.56,144.63 671.17,140.21 671.79,135.85 672.4,131.58 673.01,127.4 673.63,123.33 674.24,119.38 674.85,115.56 675.46,111.88 676.08,108.35 676.69,104.98 677.3,101.77 677.91,98.73 678.53,95.86 679.14,93.17 679.75,90.67 680.36,88.35 680.98,86.21 681.59,84.26 682.2,82.5 682.81,80.93 683.43,79.55 684.04,78.36 684.65,77.35 685.26,76.53 685.88,75.89 686.49,75.44 687.1,75.17 687.72,75.08 688.33,75.17 688.94,75.44 689.55,75.89 690.17,76.51 690.78,77.31 691.39,78.28 692,79.43 692.62,80.75 693.23,82.24 693.84,83.9 694.45,85.73 695.07,87.73 695.68,89.89 696.29,92.21 696.9,94.7 697.52,97.34 698.13,100.13 698.74,103.08 699.36,106.16 699.97,109.39 700.58,112.75 701.19,116.23 701.81,119.83 702.42,123.54 703.03,127.36 703.64,131.27 704.26,135.26 704.87,139.32 705.48,143.44 706.09,147.62 706.71,151.83 707.32,156.07 707.93,160.33 708.54,164.59 709.16,168.84 709.77,173.08 710.38,177.28 711,181.44 711.61,185.55 712.22,189.59 712.83,193.56 713.45,197.45 714.06,201.24 714.67,204.94 715.28,208.52 715.9,212 716.51,215.36 717.12,218.59 717.73,221.69 718.35,224.67 718.96,227.51 719.57,230.22 720.18,232.79 720.8,235.23 721.41,237.53 722.02,239.7 722.64,241.74 723.25,243.65 723.86,245.44 724.47,247.1 725.09,248.65 725.7,250.08 726.31,251.41 726.92,252.63 727.54,253.76 728.15,254.79 728.76,255.73 729.37,256.59 729.99,257.38 730.6,258.09 731.21,258.73 731.82,259.31 732.44,259.83 733.05,260.3 733.66,260.72 734.27,261.09 734.89,261.42 735.5,261.72 736.11,261.98 736.73,262.21 737.34,262.41 737.95,262.59 738.56,262.74 739.18,262.88 739.79,263 740.4,263.1 741.01,263.19 741.63,263.27 742.24,263.33 742.85,263.39 743.46,263.44 744.08,263.48 744.69,263.52 745.3,263.55 745.91,263.57 746.53,263.59 747.14,263.61 747.75,263.63 748.37,263.64 748.98,263.65 749.59,263.66 750.2,263.67 750.82,263.67 751.43,263.68 752.04,263.68 752.65,263.69 753.27,263.69 753.88,263.69 754.49,263.69 755.1,263.69 755.72,263.7 756.33,263.7 756.94,263.7 757.55,263.7 758.17,263.7 758.78,263.7 759.39,263.7 760.01,263.7 760.62,263.7 761.23,263.7 761.84,263.7 762.46,263.7 763.07,263.7 763.68,263.7 764.29,263.7 764.91,263.7 765.52,263.7 766.13,263.7 766.74,263.7 767.36,263.7 767.97,263.7 768.58,263.7 769.19,263.7 769.81,263.7 770.42,263.7 771.03,263.7 771.65,263.7 772.26,263.7 772.87,263.7 773.48,263.7 774.1,263.7 774.71,263.7 775.32,263.7 775.93,263.7 776.55,263.7 777.16,263.7 777.77,263.7 778.38,263.7 779,263.7 779.61,263.7 780.22,263.7 780.83,263.7 781.45,263.7 782.06,263.7 782.67,263.7 783.28,263.7 783.9,263.7 784.51,263.7 785.12,263.7 785.74,263.7 786.35,263.7 786.96,263.7 787.57,263.7 788.19,263.7 788.8,263.7 789.41,263.7 790.02,263.7 790.64,263.7 791.25,263.7 791.86,263.7 792.47,263.7 793.09,263.7 793.7,263.7 794.31,263.7 794.92,263.7 795.54,263.7 796.15,263.7 796.76,263.7 797.38,263.7 797.99,263.7 798.6,263.7 799.21,263.7 799.83,263.7 800.44,263.7 801.05,263.7 801.66,263.7 802.28,263.7 802.89,263.7 803.5,263.7 804.11,263.7 804.73,263.7 805.34,263.7 805.95,263.7 806.56,263.7 807.18,263.7 807.79,263.7 808.4,263.7 809.02,263.7 809.63,263.7 810.24,263.7 810.85,263.7 811.47,263.7 812.08,263.7 812.69,263.7 813.3,263.7 813.92,263.7 814.53,263.7 815.14,263.7 815.75,263.7 816.37,263.7 816.98,263.7 817.59,263.7 818.2,263.7 818.82,263.7 819.43,263.7 820.04,263.7 820.66,263.7 821.27,263.7 821.88,263.7 822.49,263.7 823.11,263.7 823.72,263.7 824.33,263.7 824.94,263.7 825.56,263.7 826.17,263.7 826.78,263.7 827.39,263.7 828.01,263.7 828.62,263.7 829.23,263.7 829.84,263.7 830.46,263.7 831.07,263.7 831.68,263.7 832.29,263.7 832.91,263.7 833.52,263.7 834.13,263.7 834.75,263.7 835.36,263.7 835.97,263.7 836.58,263.7 837.2,263.7 837.81,263.7 838.42,263.7 839.03,263.7 839.65,263.7 840.26,263.7 840.87,263.7 841.48,263.7 842.1,263.7 842.71,263.7 843.32,263.7 843.93,263.7 844.55,263.7 845.16,263.7 845.77,263.7 846.39,263.7 847,263.7 847.61,263.7 848.22,263.7 848.84,263.7 849.45,263.7 850.06,263.7 850.67,263.7 851.29,263.7 851.9,263.7 852.51,263.7 853.12,263.7 853.74,263.7 854.35,263.7 854.96,263.7 855.57,263.7 856.19,263.7 856.8,263.7" fill="none" stroke="#d3202a" stroke-width="2.8" stroke-linejoin="round"/>
<polyline points="611.75,263.7 612.36,263.7 612.98,263.7 613.59,263.7 614.2,263.7 614.81,263.7 615.43,263.7 616.04,263.7 616.65,263.7 617.26,263.7 617.88,263.7 618.49,263.7 619.1,263.7 619.71,263.7 620.33,263.7 620.94,263.7 621.55,263.7 622.16,263.7 622.78,263.7 623.39,263.7 624,263.7 624.62,263.7 625.23,263.7 625.84,263.7 626.45,263.7 627.07,263.7 627.68,263.7 628.29,263.7 628.9,263.7 629.52,263.7 630.13,263.7 630.74,263.7 631.35,263.7 631.97,263.7 632.58,263.7 633.19,263.7 633.8,263.7 634.42,263.7 635.03,263.7 635.64,263.7 636.25,263.7 636.87,263.7 637.48,263.7 638.09,263.7 638.71,263.7 639.32,263.7 639.93,263.7 640.54,263.7 641.16,263.7 641.77,263.7 642.38,263.7 642.99,263.7 643.61,263.7 644.22,263.7 644.83,263.7 645.44,263.7 646.06,263.7 646.67,263.7 647.28,263.7 647.89,263.7 648.51,263.7 649.12,263.7 649.73,263.7 650.35,263.7 650.96,263.7 651.57,263.7 652.18,263.7 652.8,263.7 653.41,263.7 654.02,263.7 654.63,263.7 655.25,263.7 655.86,263.7 656.47,263.7 657.08,263.7 657.7,263.7 658.31,263.7 658.92,263.7 659.53,263.7 660.15,263.7 660.76,263.7 661.37,263.7 661.99,263.7 662.6,263.7 663.21,263.7 663.82,263.7 664.44,263.7 665.05,263.7 665.66,263.69 666.27,263.69 666.89,263.69 667.5,263.69 668.11,263.69 668.72,263.69 669.34,263.68 669.95,263.68 670.56,263.68 671.17,263.67 671.79,263.67 672.4,263.66 673.01,263.65 673.63,263.64 674.24,263.63 674.85,263.62 675.46,263.61 676.08,263.59 676.69,263.57 677.3,263.55 677.91,263.52 678.53,263.5 679.14,263.46 679.75,263.43 680.36,263.38 680.98,263.34 681.59,263.28 682.2,263.22 682.81,263.16 683.43,263.08 684.04,263 684.65,262.9 685.26,262.8 685.88,262.68 686.49,262.56 687.1,262.42 687.72,262.26 688.33,262.09 688.94,261.91 689.55,261.71 690.17,261.49 690.78,261.26 691.39,261 692,260.73 692.62,260.43 693.23,260.12 693.84,259.78 694.45,259.42 695.07,259.04 695.68,258.64 696.29,258.21 696.9,257.76 697.52,257.29 698.13,256.8 698.74,256.28 699.36,255.74 699.97,255.18 700.58,254.6 701.19,253.99 701.81,253.37 702.42,252.74 703.03,252.08 703.64,251.41 704.26,250.73 704.87,250.04 705.48,249.33 706.09,248.62 706.71,247.9 707.32,247.18 707.93,246.46 708.54,245.73 709.16,245.01 709.77,244.29 710.38,243.57 711,242.86 711.61,242.17 712.22,241.48 712.83,240.8 713.45,240.14 714.06,239.5 714.67,238.87 715.28,238.26 715.9,237.67 716.51,237.1 717.12,236.55 717.73,236.02 718.35,235.51 718.96,235.03 719.57,234.57 720.18,234.13 720.8,233.72 721.41,233.33 722.02,232.96 722.64,232.61 723.25,232.29 723.86,231.98 724.47,231.7 725.09,231.44 725.7,231.19 726.31,230.97 726.92,230.76 727.54,230.57 728.15,230.39 728.76,230.23 729.37,230.09 729.99,229.95 730.6,229.83 731.21,229.72 731.82,229.62 732.44,229.54 733.05,229.46 733.66,229.39 734.27,229.32 734.89,229.27 735.5,229.22 736.11,229.17 736.73,229.13 737.34,229.1 737.95,229.07 738.56,229.04 739.18,229.02 739.79,229 740.4,228.98 741.01,228.97 741.63,228.95 742.24,228.94 742.85,228.93 743.46,228.92 744.08,228.92 744.69,228.91 745.3,228.9 745.91,228.9 746.53,228.9 747.14,228.89 747.75,228.89 748.37,228.89 748.98,228.89 749.59,228.89 750.2,228.89 750.82,228.88 751.43,228.88 752.04,228.88 752.65,228.88 753.27,228.88 753.88,228.88 754.49,228.88 755.1,228.88 755.72,228.89 756.33,228.89 756.94,228.89 757.55,228.89 758.17,228.89 758.78,228.89 759.39,228.9 760.01,228.9 760.62,228.91 761.23,228.91 761.84,228.92 762.46,228.92 763.07,228.93 763.68,228.94 764.29,228.95 764.91,228.97 765.52,228.98 766.13,229 766.74,229.02 767.36,229.04 767.97,229.07 768.58,229.1 769.19,229.13 769.81,229.17 770.42,229.21 771.03,229.26 771.65,229.31 772.26,229.37 772.87,229.44 773.48,229.52 774.1,229.6 774.71,229.69 775.32,229.8 775.93,229.91 776.55,230.04 777.16,230.18 777.77,230.33 778.38,230.49 779,230.67 779.61,230.87 780.22,231.08 780.83,231.31 781.45,231.56 782.06,231.82 782.67,232.11 783.28,232.41 783.9,232.74 784.51,233.09 785.12,233.46 785.74,233.85 786.35,234.26 786.96,234.69 787.57,235.15 788.19,235.62 788.8,236.12 789.41,236.64 790.02,237.18 790.64,237.75 791.25,238.33 791.86,238.92 792.47,239.54 793.09,240.17 793.7,240.82 794.31,241.48 794.92,242.15 795.54,242.83 796.15,243.52 796.76,244.22 797.38,244.93 797.99,245.63 798.6,246.34 799.21,247.05 799.83,247.76 800.44,248.46 801.05,249.16 801.66,249.85 802.28,250.53 802.89,251.2 803.5,251.86 804.11,252.51 804.73,253.13 805.34,253.75 805.95,254.34 806.56,254.92 807.18,255.48 807.79,256.02 808.4,256.53 809.02,257.03 809.63,257.5 810.24,257.96 810.85,258.39 811.47,258.79 812.08,259.18 812.69,259.55 813.3,259.89 813.92,260.21 814.53,260.51 815.14,260.8 815.75,261.06 816.37,261.3 816.98,261.53 817.59,261.74 818.2,261.93 818.82,262.11 819.43,262.28 820.04,262.42 820.66,262.56 821.27,262.69 821.88,262.8 822.49,262.9 823.11,262.99 823.72,263.07 824.33,263.15 824.94,263.22 825.56,263.28 826.17,263.33 826.78,263.38 827.39,263.42 828.01,263.45 828.62,263.49 829.23,263.52 829.84,263.54 830.46,263.56 831.07,263.58 831.68,263.6 832.29,263.61 832.91,263.63 833.52,263.64 834.13,263.65 834.75,263.66 835.36,263.66 835.97,263.67 836.58,263.67 837.2,263.68 837.81,263.68 838.42,263.68 839.03,263.69 839.65,263.69 840.26,263.69 840.87,263.69 841.48,263.69 842.1,263.7 842.71,263.7 843.32,263.7 843.93,263.7 844.55,263.7 845.16,263.7 845.77,263.7 846.39,263.7 847,263.7 847.61,263.7 848.22,263.7 848.84,263.7 849.45,263.7 850.06,263.7 850.67,263.7 851.29,263.7 851.9,263.7 852.51,263.7 853.12,263.7 853.74,263.7 854.35,263.7 854.96,263.7 855.57,263.7 856.19,263.7 856.8,263.7" fill="none" stroke="#2b52a3" stroke-width="2.8" stroke-linejoin="round"/>
<polyline points="611.75,263.7 612.36,263.7 612.98,263.7 613.59,263.7 614.2,263.7 614.81,263.7 615.43,263.7 616.04,263.7 616.65,263.7 617.26,263.7 617.88,263.7 618.49,263.7 619.1,263.7 619.71,263.7 620.33,263.7 620.94,263.7 621.55,263.7 622.16,263.7 622.78,263.7 623.39,263.7 624,263.7 624.62,263.7 625.23,263.7 625.84,263.7 626.45,263.7 627.07,263.7 627.68,263.7 628.29,263.7 628.9,263.7 629.52,263.7 630.13,263.7 630.74,263.7 631.35,263.7 631.97,263.7 632.58,263.7 633.19,263.7 633.8,263.7 634.42,263.7 635.03,263.7 635.64,263.7 636.25,263.7 636.87,263.7 637.48,263.7 638.09,263.7 638.71,263.7 639.32,263.7 639.93,263.7 640.54,263.7 641.16,263.7 641.77,263.7 642.38,263.7 642.99,263.7 643.61,263.7 644.22,263.7 644.83,263.7 645.44,263.7 646.06,263.7 646.67,263.7 647.28,263.7 647.89,263.7 648.51,263.7 649.12,263.7 649.73,263.7 650.35,263.7 650.96,263.7 651.57,263.7 652.18,263.7 652.8,263.7 653.41,263.7 654.02,263.7 654.63,263.7 655.25,263.7 655.86,263.7 656.47,263.7 657.08,263.7 657.7,263.7 658.31,263.7 658.92,263.7 659.53,263.7 660.15,263.7 660.76,263.7 661.37,263.69 661.99,263.69 662.6,263.69 663.21,263.69 663.82,263.69 664.44,263.68 665.05,263.68 665.66,263.67 666.27,263.67 666.89,263.66 667.5,263.65 668.11,263.64 668.72,263.63 669.34,263.62 669.95,263.6 670.56,263.58 671.17,263.56 671.79,263.53 672.4,263.5 673.01,263.46 673.63,263.42 674.24,263.37 674.85,263.31 675.46,263.24 676.08,263.16 676.69,263.07 677.3,262.96 677.91,262.84 678.53,262.7 679.14,262.54 679.75,262.36 680.36,262.16 680.98,261.93 681.59,261.66 682.2,261.37 682.81,261.04 683.43,260.67 684.04,260.26 684.65,259.8 685.26,259.29 685.88,258.73 686.49,258.11 687.1,257.43 687.72,256.68 688.33,255.85 688.94,254.96 689.55,253.98 690.17,252.92 690.78,251.77 691.39,250.53 692,249.19 692.62,247.76 693.23,246.22 693.84,244.57 694.45,242.82 695.07,240.96 695.68,238.99 696.29,236.91 696.9,234.71 697.52,232.41 698.13,229.99 698.74,227.46 699.36,224.83 699.97,222.09 700.58,219.25 701.19,216.31 701.81,213.28 702.42,210.17 703.03,206.98 703.64,203.71 704.26,200.38 704.87,197 705.48,193.56 706.09,190.08 706.71,186.58 707.32,183.05 707.93,179.51 708.54,175.97 709.16,172.44 709.77,168.92 710.38,165.43 711,161.97 711.61,158.56 712.22,155.2 712.83,151.91 713.45,148.68 714.06,145.53 714.67,142.46 715.28,139.49 715.9,136.6 716.51,133.81 717.12,131.13 717.73,128.55 718.35,126.09 718.96,123.73 719.57,121.48 720.18,119.34 720.8,117.32 721.41,115.41 722.02,113.61 722.64,111.92 723.25,110.33 723.86,108.85 724.47,107.47 725.09,106.18 725.7,104.99 726.31,103.89 726.92,102.87 727.54,101.94 728.15,101.08 728.76,100.3 729.37,99.59 729.99,98.94 730.6,98.35 731.21,97.81 731.82,97.33 732.44,96.9 733.05,96.51 733.66,96.17 734.27,95.86 734.89,95.58 735.5,95.34 736.11,95.12 736.73,94.93 737.34,94.76 737.95,94.61 738.56,94.48 739.18,94.37 739.79,94.27 740.4,94.19 741.01,94.11 741.63,94.05 742.24,93.99 742.85,93.95 743.46,93.91 744.08,93.87 744.69,93.84 745.3,93.82 745.91,93.79 746.53,93.78 747.14,93.76 747.75,93.75 748.37,93.74 748.98,93.73 749.59,93.72 750.2,93.72 750.82,93.71 751.43,93.71 752.04,93.7 752.65,93.7 753.27,93.7 753.88,93.69 754.49,93.69 755.1,93.69 755.72,93.69 756.33,93.68 756.94,93.68 757.55,93.68 758.17,93.68 758.78,93.67 759.39,93.67 760.01,93.67 760.62,93.66 761.23,93.66 761.84,93.65 762.46,93.64 763.07,93.63 763.68,93.62 764.29,93.61 764.91,93.6 765.52,93.59 766.13,93.57 766.74,93.55 767.36,93.53 767.97,93.5 768.58,93.47 769.19,93.44 769.81,93.4 770.42,93.36 771.03,93.31 771.65,93.25 772.26,93.19 772.87,93.13 773.48,93.05 774.1,92.97 774.71,92.87 775.32,92.77 775.93,92.66 776.55,92.53 777.16,92.39 777.77,92.24 778.38,92.07 779,91.89 779.61,91.7 780.22,91.49 780.83,91.26 781.45,91.01 782.06,90.74 782.67,90.46 783.28,90.15 783.9,89.83 784.51,89.48 785.12,89.11 785.74,88.72 786.35,88.31 786.96,87.88 787.57,87.42 788.19,86.94 788.8,86.44 789.41,85.92 790.02,85.38 790.64,84.82 791.25,84.24 791.86,83.64 792.47,83.03 793.09,82.4 793.7,81.75 794.31,81.09 794.92,80.42 795.54,79.73 796.15,79.04 796.76,78.34 797.38,77.64 797.99,76.93 798.6,76.22 799.21,75.51 799.83,74.81 800.44,74.1 801.05,73.41 801.66,72.72 802.28,72.03 802.89,71.36 803.5,70.71 804.11,70.06 804.73,69.43 805.34,68.82 805.95,68.22 806.56,67.65 807.18,67.09 807.79,66.55 808.4,66.03 809.02,65.54 809.63,65.06 810.24,64.61 810.85,64.18 811.47,63.77 812.08,63.39 812.69,63.02 813.3,62.68 813.92,62.35 814.53,62.05 815.14,61.77 815.75,61.51 816.37,61.26 816.98,61.04 817.59,60.83 818.2,60.63 818.82,60.45 819.43,60.29 820.04,60.14 820.66,60.01 821.27,59.88 821.88,59.77 822.49,59.67 823.11,59.58 823.72,59.49 824.33,59.42 824.94,59.35 825.56,59.29 826.17,59.24 826.78,59.19 827.39,59.15 828.01,59.11 828.62,59.08 829.23,59.05 829.84,59.03 830.46,59 831.07,58.98 831.68,58.97 832.29,58.95 832.91,58.94 833.52,58.93 834.13,58.92 834.75,58.91 835.36,58.9 835.97,58.9 836.58,58.89 837.2,58.89 837.81,58.89 838.42,58.88 839.03,58.88 839.65,58.88 840.26,58.88 840.87,58.87 841.48,58.87 842.1,58.87 842.71,58.87 843.32,58.87 843.93,58.87 844.55,58.87 845.16,58.87 845.77,58.87 846.39,58.87 847,58.87 847.61,58.87 848.22,58.87 848.84,58.87 849.45,58.87 850.06,58.87 850.67,58.87 851.29,58.87 851.9,58.87 852.51,58.87 853.12,58.87 853.74,58.87 854.35,58.87 854.96,58.87 855.57,58.87 856.19,58.87 856.8,58.87" fill="none" stroke="#1f944b" stroke-width="2.8" stroke-linejoin="round"/>
<rect x="611.75" y="18.3" width="245.05" height="245.8" fill="none" stroke="#000" stroke-width="2"/>
<line x1="607.25" y1="264.1" x2="611.75" y2="264.1" stroke="#000" stroke-width="2" />
<line x1="856.8" y1="264.1" x2="861.3" y2="264.1" stroke="#000" stroke-width="2" />
<text x="601.55" y="267.7" font-size="14" text-anchor="end" fill="#000" textLength="19.3" lengthAdjust="spacingAndGlyphs" >0,0</text>
<line x1="609.25" y1="243.62" x2="611.75" y2="243.62" stroke="#000" stroke-width="2" />
<line x1="856.8" y1="243.62" x2="859.3" y2="243.62" stroke="#000" stroke-width="2" />
<line x1="607.25" y1="223.13" x2="611.75" y2="223.13" stroke="#000" stroke-width="2" />
<line x1="856.8" y1="223.13" x2="861.3" y2="223.13" stroke="#000" stroke-width="2" />
<text x="601.55" y="226.73" font-size="14" text-anchor="end" fill="#000" textLength="19.3" lengthAdjust="spacingAndGlyphs" >0,2</text>
<line x1="609.25" y1="202.65" x2="611.75" y2="202.65" stroke="#000" stroke-width="2" />
<line x1="856.8" y1="202.65" x2="859.3" y2="202.65" stroke="#000" stroke-width="2" />
<line x1="607.25" y1="182.17" x2="611.75" y2="182.17" stroke="#000" stroke-width="2" />
<line x1="856.8" y1="182.17" x2="861.3" y2="182.17" stroke="#000" stroke-width="2" />
<text x="601.55" y="185.77" font-size="14" text-anchor="end" fill="#000" textLength="19.3" lengthAdjust="spacingAndGlyphs" >0,4</text>
<line x1="609.25" y1="161.68" x2="611.75" y2="161.68" stroke="#000" stroke-width="2" />
<line x1="856.8" y1="161.68" x2="859.3" y2="161.68" stroke="#000" stroke-width="2" />
<line x1="607.25" y1="141.2" x2="611.75" y2="141.2" stroke="#000" stroke-width="2" />
<line x1="856.8" y1="141.2" x2="861.3" y2="141.2" stroke="#000" stroke-width="2" />
<text x="601.55" y="144.8" font-size="14" text-anchor="end" fill="#000" textLength="19.3" lengthAdjust="spacingAndGlyphs" >0,6</text>
<line x1="609.25" y1="120.72" x2="611.75" y2="120.72" stroke="#000" stroke-width="2" />
<line x1="856.8" y1="120.72" x2="859.3" y2="120.72" stroke="#000" stroke-width="2" />
<line x1="607.25" y1="100.23" x2="611.75" y2="100.23" stroke="#000" stroke-width="2" />
<line x1="856.8" y1="100.23" x2="861.3" y2="100.23" stroke="#000" stroke-width="2" />
<text x="601.55" y="103.83" font-size="14" text-anchor="end" fill="#000" textLength="19.3" lengthAdjust="spacingAndGlyphs" >0,8</text>
<line x1="609.25" y1="79.75" x2="611.75" y2="79.75" stroke="#000" stroke-width="2" />
<line x1="856.8" y1="79.75" x2="859.3" y2="79.75" stroke="#000" stroke-width="2" />
<line x1="607.25" y1="59.27" x2="611.75" y2="59.27" stroke="#000" stroke-width="2" />
<line x1="856.8" y1="59.27" x2="861.3" y2="59.27" stroke="#000" stroke-width="2" />
<text x="601.55" y="62.87" font-size="14" text-anchor="end" fill="#000" textLength="19.3" lengthAdjust="spacingAndGlyphs" >1,0</text>
<line x1="609.25" y1="38.78" x2="611.75" y2="38.78" stroke="#000" stroke-width="2" />
<line x1="856.8" y1="38.78" x2="859.3" y2="38.78" stroke="#000" stroke-width="2" />
<line x1="607.25" y1="18.3" x2="611.75" y2="18.3" stroke="#000" stroke-width="2" />
<line x1="856.8" y1="18.3" x2="861.3" y2="18.3" stroke="#000" stroke-width="2" />
<text x="601.55" y="21.9" font-size="14" text-anchor="end" fill="#000" textLength="19.3" lengthAdjust="spacingAndGlyphs" >1,2</text>
<line x1="611.75" y1="264.1" x2="611.75" y2="266.6" stroke="#000" stroke-width="2" />
<line x1="611.75" y1="15.8" x2="611.75" y2="18.3" stroke="#000" stroke-width="2" />
<line x1="630.6" y1="264.1" x2="630.6" y2="268.6" stroke="#000" stroke-width="2" />
<line x1="630.6" y1="13.8" x2="630.6" y2="18.3" stroke="#000" stroke-width="2" />
<text x="628.4" y="282.7" font-size="14" text-anchor="middle" fill="#000" >-1</text>
<line x1="649.45" y1="264.1" x2="649.45" y2="266.6" stroke="#000" stroke-width="2" />
<line x1="649.45" y1="15.8" x2="649.45" y2="18.3" stroke="#000" stroke-width="2" />
<line x1="668.3" y1="264.1" x2="668.3" y2="268.6" stroke="#000" stroke-width="2" />
<line x1="668.3" y1="13.8" x2="668.3" y2="18.3" stroke="#000" stroke-width="2" />
<text x="668.3" y="282.7" font-size="14" text-anchor="middle" fill="#000" >0</text>
<line x1="687.15" y1="264.1" x2="687.15" y2="266.6" stroke="#000" stroke-width="2" />
<line x1="687.15" y1="15.8" x2="687.15" y2="18.3" stroke="#000" stroke-width="2" />
<line x1="706" y1="264.1" x2="706" y2="268.6" stroke="#000" stroke-width="2" />
<line x1="706" y1="13.8" x2="706" y2="18.3" stroke="#000" stroke-width="2" />
<text x="706" y="282.7" font-size="14" text-anchor="middle" fill="#000" >1</text>
<line x1="724.85" y1="264.1" x2="724.85" y2="266.6" stroke="#000" stroke-width="2" />
<line x1="724.85" y1="15.8" x2="724.85" y2="18.3" stroke="#000" stroke-width="2" />
<line x1="743.7" y1="264.1" x2="743.7" y2="268.6" stroke="#000" stroke-width="2" />
<line x1="743.7" y1="13.8" x2="743.7" y2="18.3" stroke="#000" stroke-width="2" />
<text x="743.7" y="282.7" font-size="14" text-anchor="middle" fill="#000" >2</text>
<line x1="762.55" y1="264.1" x2="762.55" y2="266.6" stroke="#000" stroke-width="2" />
<line x1="762.55" y1="15.8" x2="762.55" y2="18.3" stroke="#000" stroke-width="2" />
<line x1="781.4" y1="264.1" x2="781.4" y2="268.6" stroke="#000" stroke-width="2" />
<line x1="781.4" y1="13.8" x2="781.4" y2="18.3" stroke="#000" stroke-width="2" />
<text x="781.4" y="282.7" font-size="14" text-anchor="middle" fill="#000" >3</text>
<line x1="800.25" y1="264.1" x2="800.25" y2="266.6" stroke="#000" stroke-width="2" />
<line x1="800.25" y1="15.8" x2="800.25" y2="18.3" stroke="#000" stroke-width="2" />
<line x1="819.1" y1="264.1" x2="819.1" y2="268.6" stroke="#000" stroke-width="2" />
<line x1="819.1" y1="13.8" x2="819.1" y2="18.3" stroke="#000" stroke-width="2" />
<text x="819.1" y="282.7" font-size="14" text-anchor="middle" fill="#000" >4</text>
<line x1="837.95" y1="264.1" x2="837.95" y2="266.6" stroke="#000" stroke-width="2" />
<line x1="837.95" y1="15.8" x2="837.95" y2="18.3" stroke="#000" stroke-width="2" />
<line x1="856.8" y1="264.1" x2="856.8" y2="268.6" stroke="#000" stroke-width="2" />
<line x1="856.8" y1="13.8" x2="856.8" y2="18.3" stroke="#000" stroke-width="2" />
<text x="856.8" y="282.7" font-size="14" text-anchor="middle" fill="#000" >5</text>
<text x="624.2" y="48" font-size="28" text-anchor="start" fill="#000" font-weight="bold" textLength="16.8" lengthAdjust="spacingAndGlyphs" stroke="#000" stroke-width="0.7">C</text>
<polyline points="914.72,58.87 915.33,58.87 915.95,58.87 916.56,58.87 917.17,58.87 917.78,58.87 918.4,58.87 919.01,58.87 919.62,58.87 920.24,58.87 920.85,58.87 921.46,58.87 922.08,58.87 922.69,58.87 923.3,58.87 923.91,58.87 924.53,58.87 925.14,58.87 925.75,58.87 926.37,58.87 926.98,58.87 927.59,58.87 928.2,58.87 928.82,58.87 929.43,58.88 930.04,58.88 930.66,58.88 931.27,58.88 931.88,58.89 932.5,58.89 933.11,58.9 933.72,58.91 934.33,58.92 934.95,58.93 935.56,58.95 936.17,58.96 936.79,58.99 937.4,59.01 938.01,59.04 938.63,59.08 939.24,59.13 939.85,59.18 940.46,59.24 941.08,59.32 941.69,59.41 942.3,59.51 942.92,59.63 943.53,59.77 944.14,59.94 944.75,60.13 945.37,60.35 945.98,60.6 946.59,60.9 947.21,61.23 947.82,61.61 948.43,62.04 949.05,62.52 949.66,63.07 950.27,63.69 950.88,64.39 951.5,65.16 952.11,66.02 952.72,66.98 953.34,68.03 953.95,69.2 954.56,70.48 955.17,71.89 955.79,73.42 956.4,75.08 957.01,76.89 957.63,78.84 958.24,80.95 958.85,83.21 959.47,85.62 960.08,88.2 960.69,90.94 961.3,93.85 961.92,96.92 962.53,100.15 963.14,103.54 963.76,107.08 964.37,110.77 964.98,114.61 965.59,118.58 966.21,122.68 966.82,126.9 967.43,131.23 968.05,135.64 968.66,140.15 969.27,144.71 969.89,149.34 970.5,154 971.11,158.68 971.72,163.38 972.34,168.06 972.95,172.73 973.56,177.36 974.18,181.93 974.79,186.44 975.4,190.87 976.01,195.2 976.63,199.43 977.24,203.55 977.85,207.53 978.47,211.39 979.08,215.1 979.69,218.66 980.31,222.06 980.92,225.31 981.53,228.39 982.14,231.32 982.76,234.08 983.37,236.67 983.98,239.11 984.6,241.38 985.21,243.5 985.82,245.47 986.44,247.3 987.05,248.98 987.66,250.52 988.27,251.94 988.89,253.23 989.5,254.41 990.11,255.48 990.73,256.45 991.34,257.32 991.95,258.1 992.56,258.8 993.18,259.43 993.79,259.99 994.4,260.48 995.02,260.92 995.63,261.3 996.24,261.64 996.86,261.93 997.47,262.19 998.08,262.41 998.69,262.61 999.31,262.78 999.92,262.92 1000.53,263.04 1001.15,263.15 1001.76,263.24 1002.37,263.32 1002.98,263.38 1003.6,263.44 1004.21,263.48 1004.82,263.52 1005.44,263.55 1006.05,263.58 1006.66,263.6 1007.28,263.62 1007.89,263.63 1008.5,263.65 1009.11,263.66 1009.73,263.67 1010.34,263.67 1010.95,263.68 1011.57,263.68 1012.18,263.69 1012.79,263.69 1013.4,263.69 1014.02,263.69 1014.63,263.69 1015.24,263.7 1015.86,263.7 1016.47,263.7 1017.08,263.7 1017.7,263.7 1018.31,263.7 1018.92,263.7 1019.53,263.7 1020.15,263.7 1020.76,263.7 1021.37,263.7 1021.99,263.7 1022.6,263.7 1023.21,263.7 1023.83,263.7 1024.44,263.7 1025.05,263.7 1025.66,263.7 1026.28,263.7 1026.89,263.7 1027.5,263.7 1028.12,263.7 1028.73,263.7 1029.34,263.7 1029.95,263.7 1030.57,263.7 1031.18,263.7 1031.79,263.7 1032.41,263.7 1033.02,263.7 1033.63,263.7 1034.25,263.7 1034.86,263.7 1035.47,263.7 1036.08,263.7 1036.7,263.7 1037.31,263.7 1037.92,263.7 1038.54,263.7 1039.15,263.7 1039.76,263.7 1040.37,263.7 1040.99,263.7 1041.6,263.7 1042.21,263.7 1042.83,263.7 1043.44,263.7 1044.05,263.7 1044.67,263.7 1045.28,263.7 1045.89,263.7 1046.5,263.7 1047.12,263.7 1047.73,263.7 1048.34,263.7 1048.96,263.7 1049.57,263.7 1050.18,263.7 1050.79,263.7 1051.41,263.7 1052.02,263.7 1052.63,263.7 1053.25,263.7 1053.86,263.7 1054.47,263.7 1055.09,263.7 1055.7,263.7 1056.31,263.7 1056.92,263.7 1057.54,263.7 1058.15,263.7 1058.76,263.7 1059.38,263.7 1059.99,263.7 1060.6,263.7 1061.22,263.7 1061.83,263.7 1062.44,263.7 1063.05,263.7 1063.67,263.7 1064.28,263.7 1064.89,263.7 1065.51,263.7 1066.12,263.7 1066.73,263.7 1067.34,263.7 1067.96,263.7 1068.57,263.7 1069.18,263.7 1069.8,263.7 1070.41,263.7 1071.02,263.7 1071.64,263.7 1072.25,263.7 1072.86,263.7 1073.47,263.7 1074.09,263.7 1074.7,263.7 1075.31,263.7 1075.93,263.7 1076.54,263.7 1077.15,263.7 1077.76,263.7 1078.38,263.7 1078.99,263.7 1079.6,263.7 1080.22,263.7 1080.83,263.7 1081.44,263.7 1082.06,263.7 1082.67,263.7 1083.28,263.7 1083.89,263.7 1084.51,263.7 1085.12,263.7 1085.73,263.7 1086.35,263.7 1086.96,263.7 1087.57,263.7 1088.18,263.7 1088.8,263.7 1089.41,263.7 1090.02,263.7 1090.64,263.7 1091.25,263.7 1091.86,263.7 1092.48,263.7 1093.09,263.7 1093.7,263.7 1094.31,263.7 1094.93,263.7 1095.54,263.7 1096.15,263.7 1096.77,263.7 1097.38,263.7 1097.99,263.7 1098.61,263.7 1099.22,263.7 1099.83,263.7 1100.44,263.7 1101.06,263.7 1101.67,263.7 1102.28,263.7 1102.9,263.7 1103.51,263.7 1104.12,263.7 1104.73,263.7 1105.35,263.7 1105.96,263.7 1106.57,263.7 1107.19,263.7 1107.8,263.7 1108.41,263.7 1109.03,263.7 1109.64,263.7 1110.25,263.7 1110.86,263.7 1111.48,263.7 1112.09,263.7 1112.7,263.7 1113.32,263.7 1113.93,263.7 1114.54,263.7 1115.15,263.7 1115.77,263.7 1116.38,263.7 1116.99,263.7 1117.61,263.7 1118.22,263.7 1118.83,263.7 1119.45,263.7 1120.06,263.7 1120.67,263.7 1121.28,263.7 1121.9,263.7 1122.51,263.7 1123.12,263.7 1123.74,263.7 1124.35,263.7 1124.96,263.7 1125.57,263.7 1126.19,263.7 1126.8,263.7 1127.41,263.7 1128.03,263.7 1128.64,263.7 1129.25,263.7 1129.87,263.7 1130.48,263.7 1131.09,263.7 1131.7,263.7 1132.32,263.7 1132.93,263.7 1133.54,263.7 1134.16,263.7 1134.77,263.7 1135.38,263.7 1135.99,263.7 1136.61,263.7 1137.22,263.7 1137.83,263.7 1138.45,263.7 1139.06,263.7 1139.67,263.7 1140.29,263.7 1140.9,263.7 1141.51,263.7 1142.12,263.7 1142.74,263.7 1143.35,263.7 1143.96,263.7 1144.58,263.7 1145.19,263.7 1145.8,263.7 1146.42,263.7 1147.03,263.7 1147.64,263.7 1148.25,263.7 1148.87,263.7 1149.48,263.7 1150.09,263.7 1150.71,263.7 1151.32,263.7 1151.93,263.7 1152.54,263.7 1153.16,263.7 1153.77,263.7 1154.38,263.7 1155,263.7 1155.61,263.7 1156.22,263.7 1156.84,263.7 1157.45,263.7 1158.06,263.7 1158.67,263.7 1159.29,263.7 1159.9,263.7" fill="none" stroke="#333333" stroke-width="2.8" stroke-linejoin="round"/>
<polyline points="914.72,263.7 915.33,263.7 915.95,263.7 916.56,263.7 917.17,263.7 917.78,263.7 918.4,263.7 919.01,263.7 919.62,263.7 920.24,263.7 920.85,263.7 921.46,263.7 922.08,263.7 922.69,263.7 923.3,263.7 923.91,263.7 924.53,263.7 925.14,263.7 925.75,263.7 926.37,263.7 926.98,263.7 927.59,263.7 928.2,263.69 928.82,263.69 929.43,263.69 930.04,263.69 930.66,263.69 931.27,263.68 931.88,263.68 932.5,263.67 933.11,263.67 933.72,263.66 934.33,263.65 934.95,263.64 935.56,263.62 936.17,263.6 936.79,263.58 937.4,263.56 938.01,263.52 938.63,263.49 939.24,263.44 939.85,263.39 940.46,263.32 941.08,263.25 941.69,263.16 942.3,263.06 942.92,262.93 943.53,262.79 944.14,262.63 944.75,262.44 945.37,262.22 945.98,261.96 946.59,261.67 947.21,261.34 947.82,260.96 948.43,260.53 949.05,260.04 949.66,259.49 950.27,258.87 950.88,258.18 951.5,257.41 952.11,256.55 952.72,255.59 953.34,254.53 953.95,253.37 954.56,252.08 955.17,250.68 955.79,249.15 956.4,247.48 957.01,245.68 957.63,243.72 958.24,241.62 958.85,239.36 959.47,236.94 960.08,234.36 960.69,231.62 961.3,228.72 961.92,225.65 962.53,222.42 963.14,219.03 963.76,215.49 964.37,211.79 964.98,207.96 965.59,203.98 966.21,199.88 966.82,195.67 967.43,191.34 968.05,186.93 968.66,182.43 969.27,177.86 969.89,173.24 970.5,168.58 971.11,163.9 971.72,159.2 972.34,154.52 972.95,149.86 973.56,145.24 974.18,140.67 974.79,136.16 975.4,131.74 976.01,127.42 976.63,123.2 977.24,119.1 977.85,115.12 978.47,111.29 979.08,107.6 979.69,104.06 980.31,100.69 980.92,97.47 981.53,94.42 982.14,91.54 982.76,88.83 983.37,86.29 983.98,83.92 984.6,81.72 985.21,79.68 985.82,77.81 986.44,76.1 987.05,74.54 987.66,73.14 988.27,71.88 988.89,70.77 989.5,69.8 990.11,68.95 990.73,68.24 991.34,67.66 991.95,67.19 992.56,66.84 993.18,66.61 993.79,66.49 994.4,66.47 995.02,66.56 995.63,66.76 996.24,67.06 996.86,67.46 997.47,67.96 998.08,68.57 998.69,69.27 999.31,70.08 999.92,70.99 1000.53,72.01 1001.15,73.13 1001.76,74.36 1002.37,75.7 1002.98,77.14 1003.6,78.7 1004.21,80.37 1004.82,82.16 1005.44,84.06 1006.05,86.07 1006.66,88.21 1007.28,90.46 1007.89,92.82 1008.5,95.31 1009.11,97.9 1009.73,100.62 1010.34,103.44 1010.95,106.37 1011.57,109.41 1012.18,112.55 1012.79,115.79 1013.4,119.12 1014.02,122.54 1014.63,126.04 1015.24,129.62 1015.86,133.27 1016.47,136.98 1017.08,140.74 1017.7,144.55 1018.31,148.4 1018.92,152.27 1019.53,156.17 1020.15,160.08 1020.76,163.99 1021.37,167.9 1021.99,171.79 1022.6,175.65 1023.21,179.49 1023.83,183.28 1024.44,187.02 1025.05,190.71 1025.66,194.33 1026.28,197.89 1026.89,201.36 1027.5,204.75 1028.12,208.05 1028.73,211.25 1029.34,214.36 1029.95,217.36 1030.57,220.26 1031.18,223.04 1031.79,225.72 1032.41,228.29 1033.02,230.74 1033.63,233.08 1034.25,235.3 1034.86,237.41 1035.47,239.41 1036.08,241.3 1036.7,243.09 1037.31,244.76 1037.92,246.34 1038.54,247.81 1039.15,249.19 1039.76,250.47 1040.37,251.66 1040.99,252.77 1041.6,253.79 1042.21,254.74 1042.83,255.61 1043.44,256.41 1044.05,257.15 1044.67,257.82 1045.28,258.44 1045.89,259 1046.5,259.51 1047.12,259.97 1047.73,260.38 1048.34,260.76 1048.96,261.1 1049.57,261.4 1050.18,261.68 1050.79,261.92 1051.41,262.14 1052.02,262.33 1052.63,262.51 1053.25,262.66 1053.86,262.8 1054.47,262.91 1055.09,263.02 1055.7,263.11 1056.31,263.19 1056.92,263.26 1057.54,263.32 1058.15,263.38 1058.76,263.42 1059.38,263.47 1059.99,263.5 1060.6,263.53 1061.22,263.56 1061.83,263.58 1062.44,263.6 1063.05,263.61 1063.67,263.63 1064.28,263.64 1064.89,263.65 1065.51,263.66 1066.12,263.66 1066.73,263.67 1067.34,263.68 1067.96,263.68 1068.57,263.68 1069.18,263.69 1069.8,263.69 1070.41,263.69 1071.02,263.69 1071.64,263.69 1072.25,263.69 1072.86,263.7 1073.47,263.7 1074.09,263.7 1074.7,263.7 1075.31,263.7 1075.93,263.7 1076.54,263.7 1077.15,263.7 1077.76,263.7 1078.38,263.7 1078.99,263.7 1079.6,263.7 1080.22,263.7 1080.83,263.7 1081.44,263.7 1082.06,263.7 1082.67,263.7 1083.28,263.7 1083.89,263.7 1084.51,263.7 1085.12,263.7 1085.73,263.7 1086.35,263.7 1086.96,263.7 1087.57,263.7 1088.18,263.7 1088.8,263.7 1089.41,263.7 1090.02,263.7 1090.64,263.7 1091.25,263.7 1091.86,263.7 1092.48,263.7 1093.09,263.7 1093.7,263.7 1094.31,263.7 1094.93,263.7 1095.54,263.7 1096.15,263.7 1096.77,263.7 1097.38,263.7 1097.99,263.7 1098.61,263.7 1099.22,263.7 1099.83,263.7 1100.44,263.7 1101.06,263.7 1101.67,263.7 1102.28,263.7 1102.9,263.7 1103.51,263.7 1104.12,263.7 1104.73,263.7 1105.35,263.7 1105.96,263.7 1106.57,263.7 1107.19,263.7 1107.8,263.7 1108.41,263.7 1109.03,263.7 1109.64,263.7 1110.25,263.7 1110.86,263.7 1111.48,263.7 1112.09,263.7 1112.7,263.7 1113.32,263.7 1113.93,263.7 1114.54,263.7 1115.15,263.7 1115.77,263.7 1116.38,263.7 1116.99,263.7 1117.61,263.7 1118.22,263.7 1118.83,263.7 1119.45,263.7 1120.06,263.7 1120.67,263.7 1121.28,263.7 1121.9,263.7 1122.51,263.7 1123.12,263.7 1123.74,263.7 1124.35,263.7 1124.96,263.7 1125.57,263.7 1126.19,263.7 1126.8,263.7 1127.41,263.7 1128.03,263.7 1128.64,263.7 1129.25,263.7 1129.87,263.7 1130.48,263.7 1131.09,263.7 1131.7,263.7 1132.32,263.7 1132.93,263.7 1133.54,263.7 1134.16,263.7 1134.77,263.7 1135.38,263.7 1135.99,263.7 1136.61,263.7 1137.22,263.7 1137.83,263.7 1138.45,263.7 1139.06,263.7 1139.67,263.7 1140.29,263.7 1140.9,263.7 1141.51,263.7 1142.12,263.7 1142.74,263.7 1143.35,263.7 1143.96,263.7 1144.58,263.7 1145.19,263.7 1145.8,263.7 1146.42,263.7 1147.03,263.7 1147.64,263.7 1148.25,263.7 1148.87,263.7 1149.48,263.7 1150.09,263.7 1150.71,263.7 1151.32,263.7 1151.93,263.7 1152.54,263.7 1153.16,263.7 1153.77,263.7 1154.38,263.7 1155,263.7 1155.61,263.7 1156.22,263.7 1156.84,263.7 1157.45,263.7 1158.06,263.7 1158.67,263.7 1159.29,263.7 1159.9,263.7" fill="none" stroke="#d3202a" stroke-width="2.8" stroke-linejoin="round"/>
<polyline points="914.72,263.7 915.33,263.7 915.95,263.7 916.56,263.7 917.17,263.7 917.78,263.7 918.4,263.7 919.01,263.7 919.62,263.7 920.24,263.7 920.85,263.7 921.46,263.7 922.08,263.7 922.69,263.7 923.3,263.7 923.91,263.7 924.53,263.7 925.14,263.7 925.75,263.7 926.37,263.7 926.98,263.7 927.59,263.7 928.2,263.7 928.82,263.7 929.43,263.7 930.04,263.7 930.66,263.7 931.27,263.7 931.88,263.7 932.5,263.7 933.11,263.7 933.72,263.7 934.33,263.7 934.95,263.7 935.56,263.7 936.17,263.7 936.79,263.7 937.4,263.7 938.01,263.7 938.63,263.7 939.24,263.7 939.85,263.7 940.46,263.7 941.08,263.7 941.69,263.7 942.3,263.7 942.92,263.7 943.53,263.7 944.14,263.7 944.75,263.7 945.37,263.7 945.98,263.7 946.59,263.7 947.21,263.7 947.82,263.7 948.43,263.7 949.05,263.7 949.66,263.7 950.27,263.7 950.88,263.7 951.5,263.7 952.11,263.7 952.72,263.7 953.34,263.7 953.95,263.7 954.56,263.7 955.17,263.7 955.79,263.7 956.4,263.7 957.01,263.7 957.63,263.7 958.24,263.7 958.85,263.7 959.47,263.7 960.08,263.7 960.69,263.7 961.3,263.7 961.92,263.7 962.53,263.7 963.14,263.7 963.76,263.7 964.37,263.7 964.98,263.7 965.59,263.7 966.21,263.7 966.82,263.7 967.43,263.7 968.05,263.7 968.66,263.7 969.27,263.7 969.89,263.7 970.5,263.7 971.11,263.7 971.72,263.7 972.34,263.7 972.95,263.7 973.56,263.7 974.18,263.69 974.79,263.69 975.4,263.69 976.01,263.69 976.63,263.69 977.24,263.69 977.85,263.68 978.47,263.68 979.08,263.68 979.69,263.67 980.31,263.67 980.92,263.66 981.53,263.66 982.14,263.65 982.76,263.64 983.37,263.63 983.98,263.62 984.6,263.61 985.21,263.59 985.82,263.58 986.44,263.56 987.05,263.54 987.66,263.51 988.27,263.49 988.89,263.46 989.5,263.42 990.11,263.38 990.73,263.34 991.34,263.29 991.95,263.24 992.56,263.18 993.18,263.11 993.79,263.04 994.4,262.95 995.02,262.86 995.63,262.77 996.24,262.66 996.86,262.54 997.47,262.41 998.08,262.27 998.69,262.12 999.31,261.95 999.92,261.77 1000.53,261.58 1001.15,261.37 1001.76,261.14 1002.37,260.9 1002.98,260.65 1003.6,260.37 1004.21,260.08 1004.82,259.77 1005.44,259.44 1006.05,259.1 1006.66,258.73 1007.28,258.34 1007.89,257.94 1008.5,257.51 1009.11,257.07 1009.73,256.61 1010.34,256.13 1010.95,255.63 1011.57,255.11 1012.18,254.58 1012.79,254.02 1013.4,253.46 1014.02,252.88 1014.63,252.28 1015.24,251.67 1015.86,251.05 1016.47,250.42 1017.08,249.78 1017.7,249.13 1018.31,248.48 1018.92,247.82 1019.53,247.16 1020.15,246.49 1020.76,245.83 1021.37,245.16 1021.99,244.5 1022.6,243.85 1023.21,243.19 1023.83,242.55 1024.44,241.91 1025.05,241.29 1025.66,240.67 1026.28,240.07 1026.89,239.48 1027.5,238.9 1028.12,238.34 1028.73,237.79 1029.34,237.27 1029.95,236.76 1030.57,236.26 1031.18,235.79 1031.79,235.33 1032.41,234.9 1033.02,234.48 1033.63,234.08 1034.25,233.71 1034.86,233.35 1035.47,233.01 1036.08,232.69 1036.7,232.38 1037.31,232.1 1037.92,231.83 1038.54,231.58 1039.15,231.35 1039.76,231.13 1040.37,230.92 1040.99,230.74 1041.6,230.56 1042.21,230.4 1042.83,230.25 1043.44,230.12 1044.05,229.99 1044.67,229.88 1045.28,229.77 1045.89,229.68 1046.5,229.59 1047.12,229.51 1047.73,229.44 1048.34,229.38 1048.96,229.32 1049.57,229.27 1050.18,229.22 1050.79,229.18 1051.41,229.14 1052.02,229.11 1052.63,229.08 1053.25,229.06 1053.86,229.03 1054.47,229.01 1055.09,228.99 1055.7,228.98 1056.31,228.96 1056.92,228.95 1057.54,228.94 1058.15,228.93 1058.76,228.93 1059.38,228.92 1059.99,228.91 1060.6,228.91 1061.22,228.9 1061.83,228.9 1062.44,228.9 1063.05,228.89 1063.67,228.89 1064.28,228.89 1064.89,228.89 1065.51,228.89 1066.12,228.88 1066.73,228.88 1067.34,228.88 1067.96,228.88 1068.57,228.88 1069.18,228.88 1069.8,228.88 1070.41,228.88 1071.02,228.88 1071.64,228.88 1072.25,228.88 1072.86,228.88 1073.47,228.88 1074.09,228.88 1074.7,228.88 1075.31,228.88 1075.93,228.88 1076.54,228.88 1077.15,228.88 1077.76,228.88 1078.38,228.88 1078.99,228.89 1079.6,228.89 1080.22,228.89 1080.83,228.89 1081.44,228.89 1082.06,228.9 1082.67,228.9 1083.28,228.9 1083.89,228.91 1084.51,228.91 1085.12,228.92 1085.73,228.93 1086.35,228.93 1086.96,228.94 1087.57,228.95 1088.18,228.97 1088.8,228.98 1089.41,229 1090.02,229.02 1090.64,229.04 1091.25,229.06 1091.86,229.09 1092.48,229.12 1093.09,229.16 1093.7,229.19 1094.31,229.24 1094.93,229.29 1095.54,229.34 1096.15,229.41 1096.77,229.47 1097.38,229.55 1097.99,229.63 1098.61,229.73 1099.22,229.83 1099.83,229.94 1100.44,230.06 1101.06,230.2 1101.67,230.35 1102.28,230.51 1102.9,230.68 1103.51,230.87 1104.12,231.07 1104.73,231.29 1105.35,231.52 1105.96,231.77 1106.57,232.04 1107.19,232.33 1107.8,232.64 1108.41,232.96 1109.03,233.31 1109.64,233.67 1110.25,234.06 1110.86,234.46 1111.48,234.89 1112.09,235.33 1112.7,235.8 1113.32,236.28 1113.93,236.79 1114.54,237.31 1115.15,237.85 1115.77,238.41 1116.38,238.98 1116.99,239.57 1117.61,240.18 1118.22,240.8 1118.83,241.43 1119.45,242.07 1120.06,242.72 1120.67,243.38 1121.28,244.05 1121.9,244.72 1122.51,245.4 1123.12,246.08 1123.74,246.76 1124.35,247.44 1124.96,248.11 1125.57,248.78 1126.19,249.45 1126.8,250.11 1127.41,250.76 1128.03,251.39 1128.64,252.02 1129.25,252.63 1129.87,253.23 1130.48,253.82 1131.09,254.39 1131.7,254.94 1132.32,255.47 1132.93,255.99 1133.54,256.49 1134.16,256.96 1134.77,257.42 1135.38,257.86 1135.99,258.27 1136.61,258.67 1137.22,259.05 1137.83,259.41 1138.45,259.74 1139.06,260.06 1139.67,260.36 1140.29,260.64 1140.9,260.9 1141.51,261.15 1142.12,261.38 1142.74,261.59 1143.35,261.79 1143.96,261.97 1144.58,262.14 1145.19,262.29 1145.8,262.43 1146.42,262.56 1147.03,262.68 1147.64,262.79 1148.25,262.89 1148.87,262.98 1149.48,263.06 1150.09,263.13 1150.71,263.2 1151.32,263.26 1151.93,263.31 1152.54,263.36 1153.16,263.4 1153.77,263.44 1154.38,263.47 1155,263.5 1155.61,263.53 1156.22,263.55 1156.84,263.57 1157.45,263.59 1158.06,263.6 1158.67,263.62 1159.29,263.63 1159.9,263.64" fill="none" stroke="#2b52a3" stroke-width="2.8" stroke-linejoin="round"/>
<polyline points="914.72,263.7 915.33,263.7 915.95,263.7 916.56,263.7 917.17,263.7 917.78,263.7 918.4,263.7 919.01,263.7 919.62,263.7 920.24,263.7 920.85,263.7 921.46,263.7 922.08,263.7 922.69,263.7 923.3,263.7 923.91,263.7 924.53,263.7 925.14,263.7 925.75,263.7 926.37,263.7 926.98,263.7 927.59,263.7 928.2,263.7 928.82,263.7 929.43,263.7 930.04,263.7 930.66,263.7 931.27,263.7 931.88,263.7 932.5,263.7 933.11,263.7 933.72,263.7 934.33,263.7 934.95,263.7 935.56,263.7 936.17,263.7 936.79,263.7 937.4,263.7 938.01,263.7 938.63,263.7 939.24,263.7 939.85,263.7 940.46,263.7 941.08,263.7 941.69,263.7 942.3,263.7 942.92,263.7 943.53,263.7 944.14,263.7 944.75,263.7 945.37,263.7 945.98,263.7 946.59,263.7 947.21,263.7 947.82,263.7 948.43,263.7 949.05,263.7 949.66,263.7 950.27,263.7 950.88,263.7 951.5,263.7 952.11,263.7 952.72,263.7 953.34,263.7 953.95,263.7 954.56,263.7 955.17,263.7 955.79,263.7 956.4,263.7 957.01,263.7 957.63,263.7 958.24,263.7 958.85,263.7 959.47,263.7 960.08,263.7 960.69,263.7 961.3,263.7 961.92,263.7 962.53,263.7 963.14,263.7 963.76,263.7 964.37,263.7 964.98,263.7 965.59,263.7 966.21,263.7 966.82,263.7 967.43,263.7 968.05,263.7 968.66,263.7 969.27,263.69 969.89,263.69 970.5,263.69 971.11,263.69 971.72,263.69 972.34,263.68 972.95,263.68 973.56,263.68 974.18,263.67 974.79,263.67 975.4,263.66 976.01,263.65 976.63,263.65 977.24,263.64 977.85,263.62 978.47,263.61 979.08,263.59 979.69,263.57 980.31,263.55 980.92,263.52 981.53,263.49 982.14,263.46 982.76,263.42 983.37,263.37 983.98,263.32 984.6,263.25 985.21,263.18 985.82,263.1 986.44,263.01 987.05,262.91 987.66,262.79 988.27,262.66 988.89,262.51 989.5,262.34 990.11,262.15 990.73,261.94 991.34,261.7 991.95,261.44 992.56,261.14 993.18,260.82 993.79,260.46 994.4,260.06 995.02,259.62 995.63,259.14 996.24,258.61 996.86,258.03 997.47,257.4 998.08,256.72 998.69,255.97 999.31,255.16 999.92,254.28 1000.53,253.34 1001.15,252.32 1001.76,251.22 1002.37,250.05 1002.98,248.8 1003.6,247.46 1004.21,246.03 1004.82,244.52 1005.44,242.91 1006.05,241.22 1006.66,239.43 1007.28,237.55 1007.89,235.57 1008.5,233.5 1009.11,231.33 1009.73,229.08 1010.34,226.73 1010.95,224.29 1011.57,221.76 1012.18,219.15 1012.79,216.46 1013.4,213.7 1014.02,210.86 1014.63,207.95 1015.24,204.98 1015.86,201.95 1016.47,198.87 1017.08,195.75 1017.7,192.58 1018.31,189.39 1018.92,186.17 1019.53,182.94 1020.15,179.69 1020.76,176.45 1021.37,173.2 1021.99,169.98 1022.6,166.77 1023.21,163.58 1023.83,160.44 1024.44,157.33 1025.05,154.27 1025.66,151.26 1026.28,148.31 1026.89,145.43 1027.5,142.62 1028.12,139.88 1028.73,137.22 1029.34,134.64 1029.95,132.15 1030.57,129.75 1031.18,127.43 1031.79,125.21 1032.41,123.08 1033.02,121.05 1033.63,119.11 1034.25,117.26 1034.86,115.51 1035.47,113.85 1036.08,112.28 1036.7,110.8 1037.31,109.41 1037.92,108.1 1038.54,106.88 1039.15,105.73 1039.76,104.67 1040.37,103.68 1040.99,102.76 1041.6,101.91 1042.21,101.12 1042.83,100.4 1043.44,99.74 1044.05,99.13 1044.67,98.57 1045.28,98.06 1045.89,97.59 1046.5,97.17 1047.12,96.79 1047.73,96.44 1048.34,96.13 1048.96,95.85 1049.57,95.59 1050.18,95.37 1050.79,95.16 1051.41,94.98 1052.02,94.82 1052.63,94.68 1053.25,94.55 1053.86,94.44 1054.47,94.34 1055.09,94.25 1055.7,94.18 1056.31,94.11 1056.92,94.05 1057.54,94 1058.15,93.96 1058.76,93.92 1059.38,93.88 1059.99,93.85 1060.6,93.83 1061.22,93.81 1061.83,93.79 1062.44,93.77 1063.05,93.76 1063.67,93.75 1064.28,93.74 1064.89,93.73 1065.51,93.72 1066.12,93.72 1066.73,93.71 1067.34,93.71 1067.96,93.71 1068.57,93.7 1069.18,93.7 1069.8,93.7 1070.41,93.7 1071.02,93.69 1071.64,93.69 1072.25,93.69 1072.86,93.69 1073.47,93.69 1074.09,93.69 1074.7,93.69 1075.31,93.69 1075.93,93.69 1076.54,93.69 1077.15,93.69 1077.76,93.68 1078.38,93.68 1078.99,93.68 1079.6,93.68 1080.22,93.68 1080.83,93.68 1081.44,93.67 1082.06,93.67 1082.67,93.67 1083.28,93.66 1083.89,93.66 1084.51,93.65 1085.12,93.65 1085.73,93.64 1086.35,93.63 1086.96,93.62 1087.57,93.61 1088.18,93.6 1088.8,93.59 1089.41,93.57 1090.02,93.55 1090.64,93.53 1091.25,93.5 1091.86,93.48 1092.48,93.45 1093.09,93.41 1093.7,93.37 1094.31,93.33 1094.93,93.28 1095.54,93.22 1096.15,93.16 1096.77,93.09 1097.38,93.02 1097.99,92.93 1098.61,92.84 1099.22,92.74 1099.83,92.63 1100.44,92.5 1101.06,92.37 1101.67,92.22 1102.28,92.06 1102.9,91.89 1103.51,91.7 1104.12,91.5 1104.73,91.28 1105.35,91.04 1105.96,90.79 1106.57,90.52 1107.19,90.24 1107.8,89.93 1108.41,89.6 1109.03,89.26 1109.64,88.89 1110.25,88.51 1110.86,88.1 1111.48,87.68 1112.09,87.23 1112.7,86.77 1113.32,86.28 1113.93,85.78 1114.54,85.26 1115.15,84.72 1115.77,84.16 1116.38,83.58 1116.99,82.99 1117.61,82.39 1118.22,81.77 1118.83,81.14 1119.45,80.5 1120.06,79.84 1120.67,79.18 1121.28,78.51 1121.9,77.84 1122.51,77.17 1123.12,76.49 1123.74,75.81 1124.35,75.13 1124.96,74.45 1125.57,73.78 1126.19,73.12 1126.8,72.46 1127.41,71.81 1128.03,71.17 1128.64,70.55 1129.25,69.93 1129.87,69.33 1130.48,68.75 1131.09,68.18 1131.7,67.63 1132.32,67.09 1132.93,66.58 1133.54,66.08 1134.16,65.6 1134.77,65.15 1135.38,64.71 1135.99,64.29 1136.61,63.9 1137.22,63.52 1137.83,63.16 1138.45,62.82 1139.06,62.51 1139.67,62.21 1140.29,61.93 1140.9,61.66 1141.51,61.42 1142.12,61.19 1142.74,60.98 1143.35,60.78 1143.96,60.6 1144.58,60.43 1145.19,60.28 1145.8,60.13 1146.42,60 1147.03,59.89 1147.64,59.78 1148.25,59.68 1148.87,59.59 1149.48,59.51 1150.09,59.44 1150.71,59.37 1151.32,59.31 1151.93,59.26 1152.54,59.21 1153.16,59.17 1153.77,59.13 1154.38,59.1 1155,59.07 1155.61,59.04 1156.22,59.02 1156.84,59 1157.45,58.98 1158.06,58.96 1158.67,58.95 1159.29,58.94 1159.9,58.93" fill="none" stroke="#1f944b" stroke-width="2.8" stroke-linejoin="round"/>
<rect x="914.7" y="18.3" width="245.2" height="245.8" fill="none" stroke="#000" stroke-width="2"/>
<line x1="910.2" y1="264.1" x2="914.7" y2="264.1" stroke="#000" stroke-width="2" />
<line x1="1159.9" y1="264.1" x2="1164.4" y2="264.1" stroke="#000" stroke-width="2" />
<text x="904.5" y="267.7" font-size="14" text-anchor="end" fill="#000" textLength="19.3" lengthAdjust="spacingAndGlyphs" >0,0</text>
<line x1="912.2" y1="243.62" x2="914.7" y2="243.62" stroke="#000" stroke-width="2" />
<line x1="1159.9" y1="243.62" x2="1162.4" y2="243.62" stroke="#000" stroke-width="2" />
<line x1="910.2" y1="223.13" x2="914.7" y2="223.13" stroke="#000" stroke-width="2" />
<line x1="1159.9" y1="223.13" x2="1164.4" y2="223.13" stroke="#000" stroke-width="2" />
<text x="904.5" y="226.73" font-size="14" text-anchor="end" fill="#000" textLength="19.3" lengthAdjust="spacingAndGlyphs" >0,2</text>
<line x1="912.2" y1="202.65" x2="914.7" y2="202.65" stroke="#000" stroke-width="2" />
<line x1="1159.9" y1="202.65" x2="1162.4" y2="202.65" stroke="#000" stroke-width="2" />
<line x1="910.2" y1="182.17" x2="914.7" y2="182.17" stroke="#000" stroke-width="2" />
<line x1="1159.9" y1="182.17" x2="1164.4" y2="182.17" stroke="#000" stroke-width="2" />
<text x="904.5" y="185.77" font-size="14" text-anchor="end" fill="#000" textLength="19.3" lengthAdjust="spacingAndGlyphs" >0,4</text>
<line x1="912.2" y1="161.68" x2="914.7" y2="161.68" stroke="#000" stroke-width="2" />
<line x1="1159.9" y1="161.68" x2="1162.4" y2="161.68" stroke="#000" stroke-width="2" />
<line x1="910.2" y1="141.2" x2="914.7" y2="141.2" stroke="#000" stroke-width="2" />
<line x1="1159.9" y1="141.2" x2="1164.4" y2="141.2" stroke="#000" stroke-width="2" />
<text x="904.5" y="144.8" font-size="14" text-anchor="end" fill="#000" textLength="19.3" lengthAdjust="spacingAndGlyphs" >0,6</text>
<line x1="912.2" y1="120.72" x2="914.7" y2="120.72" stroke="#000" stroke-width="2" />
<line x1="1159.9" y1="120.72" x2="1162.4" y2="120.72" stroke="#000" stroke-width="2" />
<line x1="910.2" y1="100.23" x2="914.7" y2="100.23" stroke="#000" stroke-width="2" />
<line x1="1159.9" y1="100.23" x2="1164.4" y2="100.23" stroke="#000" stroke-width="2" />
<text x="904.5" y="103.83" font-size="14" text-anchor="end" fill="#000" textLength="19.3" lengthAdjust="spacingAndGlyphs" >0,8</text>
<line x1="912.2" y1="79.75" x2="914.7" y2="79.75" stroke="#000" stroke-width="2" />
<line x1="1159.9" y1="79.75" x2="1162.4" y2="79.75" stroke="#000" stroke-width="2" />
<line x1="910.2" y1="59.27" x2="914.7" y2="59.27" stroke="#000" stroke-width="2" />
<line x1="1159.9" y1="59.27" x2="1164.4" y2="59.27" stroke="#000" stroke-width="2" />
<text x="904.5" y="62.87" font-size="14" text-anchor="end" fill="#000" textLength="19.3" lengthAdjust="spacingAndGlyphs" >1,0</text>
<line x1="912.2" y1="38.78" x2="914.7" y2="38.78" stroke="#000" stroke-width="2" />
<line x1="1159.9" y1="38.78" x2="1162.4" y2="38.78" stroke="#000" stroke-width="2" />
<line x1="910.2" y1="18.3" x2="914.7" y2="18.3" stroke="#000" stroke-width="2" />
<line x1="1159.9" y1="18.3" x2="1164.4" y2="18.3" stroke="#000" stroke-width="2" />
<text x="904.5" y="21.9" font-size="14" text-anchor="end" fill="#000" textLength="19.3" lengthAdjust="spacingAndGlyphs" >1,2</text>
<line x1="914.72" y1="264.1" x2="914.72" y2="266.6" stroke="#000" stroke-width="2" />
<line x1="914.72" y1="15.8" x2="914.72" y2="18.3" stroke="#000" stroke-width="2" />
<line x1="933.58" y1="264.1" x2="933.58" y2="268.6" stroke="#000" stroke-width="2" />
<line x1="933.58" y1="13.8" x2="933.58" y2="18.3" stroke="#000" stroke-width="2" />
<text x="931.38" y="282.7" font-size="14" text-anchor="middle" fill="#000" >-1</text>
<line x1="952.44" y1="264.1" x2="952.44" y2="266.6" stroke="#000" stroke-width="2" />
<line x1="952.44" y1="15.8" x2="952.44" y2="18.3" stroke="#000" stroke-width="2" />
<line x1="971.3" y1="264.1" x2="971.3" y2="268.6" stroke="#000" stroke-width="2" />
<line x1="971.3" y1="13.8" x2="971.3" y2="18.3" stroke="#000" stroke-width="2" />
<text x="971.3" y="282.7" font-size="14" text-anchor="middle" fill="#000" >0</text>
<line x1="990.16" y1="264.1" x2="990.16" y2="266.6" stroke="#000" stroke-width="2" />
<line x1="990.16" y1="15.8" x2="990.16" y2="18.3" stroke="#000" stroke-width="2" />
<line x1="1009.02" y1="264.1" x2="1009.02" y2="268.6" stroke="#000" stroke-width="2" />
<line x1="1009.02" y1="13.8" x2="1009.02" y2="18.3" stroke="#000" stroke-width="2" />
<text x="1009.02" y="282.7" font-size="14" text-anchor="middle" fill="#000" >1</text>
<line x1="1027.88" y1="264.1" x2="1027.88" y2="266.6" stroke="#000" stroke-width="2" />
<line x1="1027.88" y1="15.8" x2="1027.88" y2="18.3" stroke="#000" stroke-width="2" />
<line x1="1046.74" y1="264.1" x2="1046.74" y2="268.6" stroke="#000" stroke-width="2" />
<line x1="1046.74" y1="13.8" x2="1046.74" y2="18.3" stroke="#000" stroke-width="2" />
<text x="1046.74" y="282.7" font-size="14" text-anchor="middle" fill="#000" >2</text>
<line x1="1065.6" y1="264.1" x2="1065.6" y2="266.6" stroke="#000" stroke-width="2" />
<line x1="1065.6" y1="15.8" x2="1065.6" y2="18.3" stroke="#000" stroke-width="2" />
<line x1="1084.46" y1="264.1" x2="1084.46" y2="268.6" stroke="#000" stroke-width="2" />
<line x1="1084.46" y1="13.8" x2="1084.46" y2="18.3" stroke="#000" stroke-width="2" />
<text x="1084.46" y="282.7" font-size="14" text-anchor="middle" fill="#000" >3</text>
<line x1="1103.32" y1="264.1" x2="1103.32" y2="266.6" stroke="#000" stroke-width="2" />
<line x1="1103.32" y1="15.8" x2="1103.32" y2="18.3" stroke="#000" stroke-width="2" />
<line x1="1122.18" y1="264.1" x2="1122.18" y2="268.6" stroke="#000" stroke-width="2" />
<line x1="1122.18" y1="13.8" x2="1122.18" y2="18.3" stroke="#000" stroke-width="2" />
<text x="1122.18" y="282.7" font-size="14" text-anchor="middle" fill="#000" >4</text>
<line x1="1141.04" y1="264.1" x2="1141.04" y2="266.6" stroke="#000" stroke-width="2" />
<line x1="1141.04" y1="15.8" x2="1141.04" y2="18.3" stroke="#000" stroke-width="2" />
<line x1="1159.9" y1="264.1" x2="1159.9" y2="268.6" stroke="#000" stroke-width="2" />
<line x1="1159.9" y1="13.8" x2="1159.9" y2="18.3" stroke="#000" stroke-width="2" />
<text x="1159.9" y="282.7" font-size="14" text-anchor="middle" fill="#000" >5</text>
<text x="924.6" y="48" font-size="28" text-anchor="start" fill="#000" font-weight="bold" textLength="18.8" lengthAdjust="spacingAndGlyphs" stroke="#000" stroke-width="0.7">D</text>
<line x1="744.3" y1="121.2" x2="774.2" y2="121.2" stroke="#333333" stroke-width="2.6" />
<text x="777.2" y="124.9" font-size="12.3" text-anchor="start" fill="#000" textLength="15.2" lengthAdjust="spacingAndGlyphs" >Air</text>
<line x1="744.3" y1="136.8" x2="774.2" y2="136.8" stroke="#d3202a" stroke-width="2.6" />
<text x="777.2" y="140.5" font-size="12.3" text-anchor="start" fill="#000" textLength="49.1" lengthAdjust="spacingAndGlyphs" >FP2 (air)</text>
<line x1="744.3" y1="152.4" x2="774.2" y2="152.4" stroke="#2b52a3" stroke-width="2.6" />
<text x="777.2" y="156.1" font-size="12.3" text-anchor="start" fill="#000" textLength="66" lengthAdjust="spacingAndGlyphs" >FP2 (water)</text>
<line x1="744.3" y1="168" x2="774.2" y2="168" stroke="#1f944b" stroke-width="2.6" />
<text x="777.2" y="171.7" font-size="12.3" text-anchor="start" fill="#000" textLength="33.3" lengthAdjust="spacingAndGlyphs" >Water</text>
<text x="272.3" y="141.6" font-size="21.2" text-anchor="middle" fill="#000" textLength="273.5" lengthAdjust="spacingAndGlyphs" transform="rotate(-90 272.3 141.6)" >Component volume ocupancy</text>
<text x="598.2" y="312.5" font-size="20.3" text-anchor="start" fill="#000" textLength="271.6" lengthAdjust="spacingAndGlyphs" >Distance to the interface (nm)</text>
<line x1="88.4" y1="422.38" x2="88.4" y2="486.82" stroke="#5a70b0" stroke-width="0.95" />
<line x1="85.65" y1="422.38" x2="91.15" y2="422.38" stroke="#3a4470" stroke-width="1.1" />
<line x1="85.65" y1="486.82" x2="91.15" y2="486.82" stroke="#3a4470" stroke-width="1.1" />
<line x1="147.6" y1="415.93" x2="147.6" y2="480.38" stroke="#5a70b0" stroke-width="0.95" />
<line x1="144.85" y1="415.93" x2="150.35" y2="415.93" stroke="#3a4470" stroke-width="1.1" />
<line x1="144.85" y1="480.38" x2="150.35" y2="480.38" stroke="#3a4470" stroke-width="1.1" />
<line x1="266" y1="393.38" x2="266" y2="419.16" stroke="#5a70b0" stroke-width="0.95" />
<line x1="263.25" y1="393.38" x2="268.75" y2="393.38" stroke="#3a4470" stroke-width="1.1" />
<line x1="263.25" y1="419.16" x2="268.75" y2="419.16" stroke="#3a4470" stroke-width="1.1" />
<line x1="384.4" y1="366.31" x2="384.4" y2="376.62" stroke="#5a70b0" stroke-width="0.95" />
<line x1="381.65" y1="366.31" x2="387.15" y2="366.31" stroke="#3a4470" stroke-width="1.1" />
<line x1="381.65" y1="376.62" x2="387.15" y2="376.62" stroke="#3a4470" stroke-width="1.1" />
<line x1="88.4" y1="486.82" x2="88.4" y2="551.27" stroke="#d85a5a" stroke-width="0.95" />
<line x1="85.65" y1="486.82" x2="91.15" y2="486.82" stroke="#803838" stroke-width="1.1" />
<line x1="85.65" y1="551.27" x2="91.15" y2="551.27" stroke="#803838" stroke-width="1.1" />
<line x1="147.6" y1="478.44" x2="147.6" y2="542.89" stroke="#d85a5a" stroke-width="0.95" />
<line x1="144.85" y1="478.44" x2="150.35" y2="478.44" stroke="#803838" stroke-width="1.1" />
<line x1="144.85" y1="542.89" x2="150.35" y2="542.89" stroke="#803838" stroke-width="1.1" />
<line x1="266" y1="461.04" x2="266" y2="486.82" stroke="#d85a5a" stroke-width="0.95" />
<line x1="263.25" y1="461.04" x2="268.75" y2="461.04" stroke="#803838" stroke-width="1.1" />
<line x1="263.25" y1="486.82" x2="268.75" y2="486.82" stroke="#803838" stroke-width="1.1" />
<line x1="384.4" y1="447.51" x2="384.4" y2="460.4" stroke="#d85a5a" stroke-width="0.95" />
<line x1="381.65" y1="447.51" x2="387.15" y2="447.51" stroke="#803838" stroke-width="1.1" />
<line x1="381.65" y1="460.4" x2="387.15" y2="460.4" stroke="#803838" stroke-width="1.1" />
<line x1="88.4" y1="557.71" x2="88.4" y2="570.6" stroke="#666" stroke-width="1.0" />
<line x1="85.9" y1="557.71" x2="90.9" y2="557.71" stroke="#555" stroke-width="1.0" />
<line x1="85.9" y1="570.6" x2="90.9" y2="570.6" stroke="#555" stroke-width="1.0" />
<line x1="147.6" y1="560.29" x2="147.6" y2="571.89" stroke="#666" stroke-width="1.0" />
<line x1="145.1" y1="560.29" x2="150.1" y2="560.29" stroke="#555" stroke-width="1.0" />
<line x1="145.1" y1="571.89" x2="150.1" y2="571.89" stroke="#555" stroke-width="1.0" />
<line x1="266" y1="558.36" x2="266" y2="563.51" stroke="#666" stroke-width="1.0" />
<line x1="263.5" y1="558.36" x2="268.5" y2="558.36" stroke="#555" stroke-width="1.0" />
<line x1="263.5" y1="563.51" x2="268.5" y2="563.51" stroke="#555" stroke-width="1.0" />
<line x1="384.4" y1="544.18" x2="384.4" y2="548.04" stroke="#666" stroke-width="1.0" />
<line x1="381.9" y1="544.18" x2="386.9" y2="544.18" stroke="#555" stroke-width="1.0" />
<line x1="381.9" y1="548.04" x2="386.9" y2="548.04" stroke="#555" stroke-width="1.0" />
<rect x="84.2" y="559.96" width="8.4" height="8.4" fill="#444"/>
<rect x="143.4" y="561.89" width="8.4" height="8.4" fill="#444"/>
<rect x="261.8" y="556.73" width="8.4" height="8.4" fill="#444"/>
<rect x="380.2" y="541.91" width="8.4" height="8.4" fill="#444"/>
<circle cx="88.4" cy="519.04" r="4.6" fill="#e0252b"/>
<circle cx="147.6" cy="510.67" r="4.6" fill="#e0252b"/>
<circle cx="266" cy="473.93" r="4.6" fill="#e0252b"/>
<circle cx="384.4" cy="453.96" r="4.6" fill="#e0252b"/>
<polygon points="83,458.6 93.8,458.6 88.4,449.1" fill="#2c5cb0"/>
<polygon points="142.2,452.16 153,452.16 147.6,442.66" fill="#2c5cb0"/>
<polygon points="260.6,410.27 271.4,410.27 266,400.77" fill="#2c5cb0"/>
<polygon points="379,375.47 389.8,375.47 384.4,365.97" fill="#2c5cb0"/>
<rect x="58.8" y="337.6" width="355.2" height="290" fill="none" stroke="#000" stroke-width="1.8"/>
<line x1="53.8" y1="627.6" x2="58.8" y2="627.6" stroke="#000" stroke-width="1.8" />
<line x1="414" y1="627.6" x2="419" y2="627.6" stroke="#000" stroke-width="1.8" />
<text x="49" y="631.7" font-size="14.2" text-anchor="end" fill="#000" textLength="19.6" lengthAdjust="spacingAndGlyphs" >0,0</text>
<line x1="56.3" y1="611.49" x2="58.8" y2="611.49" stroke="#000" stroke-width="1.8" />
<line x1="414" y1="611.49" x2="416.5" y2="611.49" stroke="#000" stroke-width="1.8" />
<line x1="53.8" y1="595.38" x2="58.8" y2="595.38" stroke="#000" stroke-width="1.8" />
<line x1="414" y1="595.38" x2="419" y2="595.38" stroke="#000" stroke-width="1.8" />
<text x="49" y="599.48" font-size="14.2" text-anchor="end" fill="#000" textLength="19.6" lengthAdjust="spacingAndGlyphs" >0,5</text>
<line x1="56.3" y1="579.27" x2="58.8" y2="579.27" stroke="#000" stroke-width="1.8" />
<line x1="414" y1="579.27" x2="416.5" y2="579.27" stroke="#000" stroke-width="1.8" />
<line x1="53.8" y1="563.16" x2="58.8" y2="563.16" stroke="#000" stroke-width="1.8" />
<line x1="414" y1="563.16" x2="419" y2="563.16" stroke="#000" stroke-width="1.8" />
<text x="49" y="567.26" font-size="14.2" text-anchor="end" fill="#000" textLength="19.6" lengthAdjust="spacingAndGlyphs" >1,0</text>
<line x1="56.3" y1="547.04" x2="58.8" y2="547.04" stroke="#000" stroke-width="1.8" />
<line x1="414" y1="547.04" x2="416.5" y2="547.04" stroke="#000" stroke-width="1.8" />
<line x1="53.8" y1="530.93" x2="58.8" y2="530.93" stroke="#000" stroke-width="1.8" />
<line x1="414" y1="530.93" x2="419" y2="530.93" stroke="#000" stroke-width="1.8" />
<text x="49" y="535.03" font-size="14.2" text-anchor="end" fill="#000" textLength="19.6" lengthAdjust="spacingAndGlyphs" >1,5</text>
<line x1="56.3" y1="514.82" x2="58.8" y2="514.82" stroke="#000" stroke-width="1.8" />
<line x1="414" y1="514.82" x2="416.5" y2="514.82" stroke="#000" stroke-width="1.8" />
<line x1="53.8" y1="498.71" x2="58.8" y2="498.71" stroke="#000" stroke-width="1.8" />
<line x1="414" y1="498.71" x2="419" y2="498.71" stroke="#000" stroke-width="1.8" />
<text x="49" y="502.81" font-size="14.2" text-anchor="end" fill="#000" textLength="19.6" lengthAdjust="spacingAndGlyphs" >2,0</text>
<line x1="56.3" y1="482.6" x2="58.8" y2="482.6" stroke="#000" stroke-width="1.8" />
<line x1="414" y1="482.6" x2="416.5" y2="482.6" stroke="#000" stroke-width="1.8" />
<line x1="53.8" y1="466.49" x2="58.8" y2="466.49" stroke="#000" stroke-width="1.8" />
<line x1="414" y1="466.49" x2="419" y2="466.49" stroke="#000" stroke-width="1.8" />
<text x="49" y="470.59" font-size="14.2" text-anchor="end" fill="#000" textLength="19.6" lengthAdjust="spacingAndGlyphs" >2,5</text>
<line x1="56.3" y1="450.38" x2="58.8" y2="450.38" stroke="#000" stroke-width="1.8" />
<line x1="414" y1="450.38" x2="416.5" y2="450.38" stroke="#000" stroke-width="1.8" />
<line x1="53.8" y1="434.27" x2="58.8" y2="434.27" stroke="#000" stroke-width="1.8" />
<line x1="414" y1="434.27" x2="419" y2="434.27" stroke="#000" stroke-width="1.8" />
<text x="49" y="438.37" font-size="14.2" text-anchor="end" fill="#000" textLength="19.6" lengthAdjust="spacingAndGlyphs" >3,0</text>
<line x1="56.3" y1="418.16" x2="58.8" y2="418.16" stroke="#000" stroke-width="1.8" />
<line x1="414" y1="418.16" x2="416.5" y2="418.16" stroke="#000" stroke-width="1.8" />
<line x1="53.8" y1="402.04" x2="58.8" y2="402.04" stroke="#000" stroke-width="1.8" />
<line x1="414" y1="402.04" x2="419" y2="402.04" stroke="#000" stroke-width="1.8" />
<text x="49" y="406.14" font-size="14.2" text-anchor="end" fill="#000" textLength="19.6" lengthAdjust="spacingAndGlyphs" >3,5</text>
<line x1="56.3" y1="385.93" x2="58.8" y2="385.93" stroke="#000" stroke-width="1.8" />
<line x1="414" y1="385.93" x2="416.5" y2="385.93" stroke="#000" stroke-width="1.8" />
<line x1="53.8" y1="369.82" x2="58.8" y2="369.82" stroke="#000" stroke-width="1.8" />
<line x1="414" y1="369.82" x2="419" y2="369.82" stroke="#000" stroke-width="1.8" />
<text x="49" y="373.92" font-size="14.2" text-anchor="end" fill="#000" textLength="19.6" lengthAdjust="spacingAndGlyphs" >4,0</text>
<line x1="56.3" y1="353.71" x2="58.8" y2="353.71" stroke="#000" stroke-width="1.8" />
<line x1="414" y1="353.71" x2="416.5" y2="353.71" stroke="#000" stroke-width="1.8" />
<line x1="53.8" y1="337.6" x2="58.8" y2="337.6" stroke="#000" stroke-width="1.8" />
<line x1="414" y1="337.6" x2="419" y2="337.6" stroke="#000" stroke-width="1.8" />
<text x="49" y="341.7" font-size="14.2" text-anchor="end" fill="#000" textLength="19.6" lengthAdjust="spacingAndGlyphs" >4,5</text>
<line x1="58.8" y1="627.6" x2="58.8" y2="630.1" stroke="#000" stroke-width="1.8" />
<line x1="58.8" y1="335.1" x2="58.8" y2="337.6" stroke="#000" stroke-width="1.8" />
<line x1="88.4" y1="627.6" x2="88.4" y2="632.6" stroke="#000" stroke-width="1.8" />
<line x1="88.4" y1="332.6" x2="88.4" y2="337.6" stroke="#000" stroke-width="1.8" />
<text x="88.4" y="648.2" font-size="14" text-anchor="middle" fill="#000" textLength="7.6" lengthAdjust="spacingAndGlyphs" >5</text>
<line x1="118" y1="627.6" x2="118" y2="630.1" stroke="#000" stroke-width="1.8" />
<line x1="118" y1="335.1" x2="118" y2="337.6" stroke="#000" stroke-width="1.8" />
<line x1="147.6" y1="627.6" x2="147.6" y2="632.6" stroke="#000" stroke-width="1.8" />
<line x1="147.6" y1="332.6" x2="147.6" y2="337.6" stroke="#000" stroke-width="1.8" />
<text x="147.6" y="648.2" font-size="14" text-anchor="middle" fill="#000" textLength="15.2" lengthAdjust="spacingAndGlyphs" >10</text>
<line x1="177.2" y1="627.6" x2="177.2" y2="630.1" stroke="#000" stroke-width="1.8" />
<line x1="177.2" y1="335.1" x2="177.2" y2="337.6" stroke="#000" stroke-width="1.8" />
<line x1="206.8" y1="627.6" x2="206.8" y2="632.6" stroke="#000" stroke-width="1.8" />
<line x1="206.8" y1="332.6" x2="206.8" y2="337.6" stroke="#000" stroke-width="1.8" />
<text x="206.8" y="648.2" font-size="14" text-anchor="middle" fill="#000" textLength="15.2" lengthAdjust="spacingAndGlyphs" >15</text>
<line x1="236.4" y1="627.6" x2="236.4" y2="630.1" stroke="#000" stroke-width="1.8" />
<line x1="236.4" y1="335.1" x2="236.4" y2="337.6" stroke="#000" stroke-width="1.8" />
<line x1="266" y1="627.6" x2="266" y2="632.6" stroke="#000" stroke-width="1.8" />
<line x1="266" y1="332.6" x2="266" y2="337.6" stroke="#000" stroke-width="1.8" />
<text x="266" y="648.2" font-size="14" text-anchor="middle" fill="#000" textLength="15.2" lengthAdjust="spacingAndGlyphs" >20</text>
<line x1="295.6" y1="627.6" x2="295.6" y2="630.1" stroke="#000" stroke-width="1.8" />
<line x1="295.6" y1="335.1" x2="295.6" y2="337.6" stroke="#000" stroke-width="1.8" />
<line x1="325.2" y1="627.6" x2="325.2" y2="632.6" stroke="#000" stroke-width="1.8" />
<line x1="325.2" y1="332.6" x2="325.2" y2="337.6" stroke="#000" stroke-width="1.8" />
<text x="325.2" y="648.2" font-size="14" text-anchor="middle" fill="#000" textLength="15.2" lengthAdjust="spacingAndGlyphs" >25</text>
<line x1="354.8" y1="627.6" x2="354.8" y2="630.1" stroke="#000" stroke-width="1.8" />
<line x1="354.8" y1="335.1" x2="354.8" y2="337.6" stroke="#000" stroke-width="1.8" />
<line x1="384.4" y1="627.6" x2="384.4" y2="632.6" stroke="#000" stroke-width="1.8" />
<line x1="384.4" y1="332.6" x2="384.4" y2="337.6" stroke="#000" stroke-width="1.8" />
<text x="384.4" y="648.2" font-size="14" text-anchor="middle" fill="#000" textLength="15.2" lengthAdjust="spacingAndGlyphs" >30</text>
<line x1="414" y1="627.6" x2="414" y2="630.1" stroke="#000" stroke-width="1.8" />
<line x1="414" y1="335.1" x2="414" y2="337.6" stroke="#000" stroke-width="1.8" />
<text x="75.8" y="370.3" font-size="28" text-anchor="start" fill="#000" font-weight="bold" textLength="14" lengthAdjust="spacingAndGlyphs" stroke="#000" stroke-width="0.7">E</text>
<rect x="293.9" y="569.4" width="113.9" height="51.3" fill="#fff" stroke="#333" stroke-width="1"/>
<rect x="307.4" y="574.6" width="8" height="8" fill="#444"/>
<circle cx="311.4" cy="595.4" r="4.4" fill="#e0252b"/>
<polygon points="306.2,615.1 316.6,615.1 311.4,606" fill="#2c5cb0"/>
<text x="329.6" y="583.1" font-size="12.8" text-anchor="start" fill="#000" textLength="58.4" lengthAdjust="spacingAndGlyphs" >t (FP2 air)</text>
<text x="329.6" y="599.9" font-size="12.8" text-anchor="start" fill="#000" textLength="75.2" lengthAdjust="spacingAndGlyphs" >t (FP2 water)</text>
<text x="329.6" y="615.7" font-size="12.8" text-anchor="start" fill="#000" textLength="40.4" lengthAdjust="spacingAndGlyphs" >t (total)</text>
<text x="14.6" y="483" font-size="17" text-anchor="middle" fill="#000" textLength="119.5" lengthAdjust="spacingAndGlyphs" transform="rotate(-90 14.6 483)" >Thickness (nm)</text>
<text x="138.6" y="674.2" font-size="16.5" text-anchor="start" fill="#000" textLength="193.8" lengthAdjust="spacingAndGlyphs" >Surface pressure (mN/m)</text>
<rect x="487.5" y="338.7" width="88.45" height="290.3" fill="#fbfdff"/>
<rect x="575.95" y="338.7" width="265.35" height="290.3" fill="#d7e7f7"/>
<line x1="575.95" y1="338.7" x2="575.95" y2="629" stroke="#111" stroke-width="1.9" stroke-dasharray="7.4 5.9"/>
<line x1="516.98" y1="512.98" x2="516.98" y2="547.21" stroke="#555" stroke-width="1.1" />
<line x1="514.48" y1="512.98" x2="519.48" y2="512.98" stroke="#555" stroke-width="1.1" />
<line x1="514.48" y1="547.21" x2="519.48" y2="547.21" stroke="#555" stroke-width="1.1" />
<rect x="512.68" y="523.37" width="8.6" height="8.6" fill="#444"/>
<rect x="571.65" y="493.93" width="8.6" height="8.6" fill="#444"/>
<rect x="689.58" y="422.04" width="8.6" height="8.6" fill="#444"/>
<rect x="807.52" y="383.49" width="8.6" height="8.6" fill="#444"/>
<circle cx="516.98" cy="515.63" r="4.7" fill="#e0252b"/>
<circle cx="575.95" cy="492.12" r="4.7" fill="#e0252b"/>
<circle cx="693.88" cy="464.93" r="4.7" fill="#e0252b"/>
<circle cx="811.82" cy="430.53" r="4.7" fill="#e0252b"/>
<rect x="487.5" y="338.7" width="353.8" height="290.3" fill="none" stroke="#000" stroke-width="2"/>
<line x1="482.5" y1="629" x2="487.5" y2="629" stroke="#000" stroke-width="1.8" />
<line x1="841.3" y1="629" x2="846.3" y2="629" stroke="#000" stroke-width="1.8" />
<line x1="485" y1="585.31" x2="487.5" y2="585.31" stroke="#000" stroke-width="1.8" />
<line x1="841.3" y1="585.31" x2="843.8" y2="585.31" stroke="#000" stroke-width="1.8" />
<line x1="485" y1="559.75" x2="487.5" y2="559.75" stroke="#000" stroke-width="1.8" />
<line x1="841.3" y1="559.75" x2="843.8" y2="559.75" stroke="#000" stroke-width="1.8" />
<line x1="485" y1="541.61" x2="487.5" y2="541.61" stroke="#000" stroke-width="1.8" />
<line x1="841.3" y1="541.61" x2="843.8" y2="541.61" stroke="#000" stroke-width="1.8" />
<line x1="485" y1="527.54" x2="487.5" y2="527.54" stroke="#000" stroke-width="1.8" />
<line x1="841.3" y1="527.54" x2="843.8" y2="527.54" stroke="#000" stroke-width="1.8" />
<line x1="485" y1="516.05" x2="487.5" y2="516.05" stroke="#000" stroke-width="1.8" />
<line x1="841.3" y1="516.05" x2="843.8" y2="516.05" stroke="#000" stroke-width="1.8" />
<line x1="485" y1="506.33" x2="487.5" y2="506.33" stroke="#000" stroke-width="1.8" />
<line x1="841.3" y1="506.33" x2="843.8" y2="506.33" stroke="#000" stroke-width="1.8" />
<line x1="485" y1="497.92" x2="487.5" y2="497.92" stroke="#000" stroke-width="1.8" />
<line x1="841.3" y1="497.92" x2="843.8" y2="497.92" stroke="#000" stroke-width="1.8" />
<line x1="485" y1="490.49" x2="487.5" y2="490.49" stroke="#000" stroke-width="1.8" />
<line x1="841.3" y1="490.49" x2="843.8" y2="490.49" stroke="#000" stroke-width="1.8" />
<line x1="482.5" y1="483.85" x2="487.5" y2="483.85" stroke="#000" stroke-width="1.8" />
<line x1="841.3" y1="483.85" x2="846.3" y2="483.85" stroke="#000" stroke-width="1.8" />
<line x1="485" y1="440.16" x2="487.5" y2="440.16" stroke="#000" stroke-width="1.8" />
<line x1="841.3" y1="440.16" x2="843.8" y2="440.16" stroke="#000" stroke-width="1.8" />
<line x1="485" y1="414.6" x2="487.5" y2="414.6" stroke="#000" stroke-width="1.8" />
<line x1="841.3" y1="414.6" x2="843.8" y2="414.6" stroke="#000" stroke-width="1.8" />
<line x1="485" y1="396.46" x2="487.5" y2="396.46" stroke="#000" stroke-width="1.8" />
<line x1="841.3" y1="396.46" x2="843.8" y2="396.46" stroke="#000" stroke-width="1.8" />
<line x1="485" y1="382.39" x2="487.5" y2="382.39" stroke="#000" stroke-width="1.8" />
<line x1="841.3" y1="382.39" x2="843.8" y2="382.39" stroke="#000" stroke-width="1.8" />
<line x1="485" y1="370.9" x2="487.5" y2="370.9" stroke="#000" stroke-width="1.8" />
<line x1="841.3" y1="370.9" x2="843.8" y2="370.9" stroke="#000" stroke-width="1.8" />
<line x1="485" y1="361.18" x2="487.5" y2="361.18" stroke="#000" stroke-width="1.8" />
<line x1="841.3" y1="361.18" x2="843.8" y2="361.18" stroke="#000" stroke-width="1.8" />
<line x1="485" y1="352.77" x2="487.5" y2="352.77" stroke="#000" stroke-width="1.8" />
<line x1="841.3" y1="352.77" x2="843.8" y2="352.77" stroke="#000" stroke-width="1.8" />
<line x1="485" y1="345.34" x2="487.5" y2="345.34" stroke="#000" stroke-width="1.8" />
<line x1="841.3" y1="345.34" x2="843.8" y2="345.34" stroke="#000" stroke-width="1.8" />
<line x1="482.5" y1="338.7" x2="487.5" y2="338.7" stroke="#000" stroke-width="1.8" />
<line x1="841.3" y1="338.7" x2="846.3" y2="338.7" stroke="#000" stroke-width="1.8" />
<text x="468.3" y="343.7" font-size="13.5" text-anchor="end" fill="#000" textLength="14.3" lengthAdjust="spacingAndGlyphs" >10</text>
<text x="468.6" y="338.2" font-size="9" text-anchor="start" fill="#000" textLength="9" lengthAdjust="spacingAndGlyphs" >-3</text>
<text x="468.3" y="488.85" font-size="13.5" text-anchor="end" fill="#000" textLength="14.3" lengthAdjust="spacingAndGlyphs" >10</text>
<text x="468.6" y="483.35" font-size="9" text-anchor="start" fill="#000" textLength="9" lengthAdjust="spacingAndGlyphs" >-4</text>
<text x="468.3" y="634" font-size="13.5" text-anchor="end" fill="#000" textLength="14.3" lengthAdjust="spacingAndGlyphs" >10</text>
<text x="468.6" y="628.5" font-size="9" text-anchor="start" fill="#000" textLength="9" lengthAdjust="spacingAndGlyphs" >-5</text>
<line x1="487.5" y1="629" x2="487.5" y2="631.5" stroke="#000" stroke-width="1.8" />
<line x1="487.5" y1="336.2" x2="487.5" y2="338.7" stroke="#000" stroke-width="1.8" />
<line x1="516.98" y1="629" x2="516.98" y2="634" stroke="#000" stroke-width="1.8" />
<line x1="516.98" y1="333.7" x2="516.98" y2="338.7" stroke="#000" stroke-width="1.8" />
<text x="516.98" y="649.6" font-size="14" text-anchor="middle" fill="#000" textLength="7.6" lengthAdjust="spacingAndGlyphs" >5</text>
<line x1="546.47" y1="629" x2="546.47" y2="631.5" stroke="#000" stroke-width="1.8" />
<line x1="546.47" y1="336.2" x2="546.47" y2="338.7" stroke="#000" stroke-width="1.8" />
<line x1="575.95" y1="629" x2="575.95" y2="634" stroke="#000" stroke-width="1.8" />
<line x1="575.95" y1="333.7" x2="575.95" y2="338.7" stroke="#000" stroke-width="1.8" />
<text x="575.95" y="649.6" font-size="14" text-anchor="middle" fill="#000" textLength="15.2" lengthAdjust="spacingAndGlyphs" >10</text>
<line x1="605.43" y1="629" x2="605.43" y2="631.5" stroke="#000" stroke-width="1.8" />
<line x1="605.43" y1="336.2" x2="605.43" y2="338.7" stroke="#000" stroke-width="1.8" />
<line x1="634.92" y1="629" x2="634.92" y2="634" stroke="#000" stroke-width="1.8" />
<line x1="634.92" y1="333.7" x2="634.92" y2="338.7" stroke="#000" stroke-width="1.8" />
<text x="634.92" y="649.6" font-size="14" text-anchor="middle" fill="#000" textLength="15.2" lengthAdjust="spacingAndGlyphs" >15</text>
<line x1="664.4" y1="629" x2="664.4" y2="631.5" stroke="#000" stroke-width="1.8" />
<line x1="664.4" y1="336.2" x2="664.4" y2="338.7" stroke="#000" stroke-width="1.8" />
<line x1="693.88" y1="629" x2="693.88" y2="634" stroke="#000" stroke-width="1.8" />
<line x1="693.88" y1="333.7" x2="693.88" y2="338.7" stroke="#000" stroke-width="1.8" />
<text x="693.88" y="649.6" font-size="14" text-anchor="middle" fill="#000" textLength="15.2" lengthAdjust="spacingAndGlyphs" >20</text>
<line x1="723.37" y1="629" x2="723.37" y2="631.5" stroke="#000" stroke-width="1.8" />
<line x1="723.37" y1="336.2" x2="723.37" y2="338.7" stroke="#000" stroke-width="1.8" />
<line x1="752.85" y1="629" x2="752.85" y2="634" stroke="#000" stroke-width="1.8" />
<line x1="752.85" y1="333.7" x2="752.85" y2="338.7" stroke="#000" stroke-width="1.8" />
<text x="752.85" y="649.6" font-size="14" text-anchor="middle" fill="#000" textLength="15.2" lengthAdjust="spacingAndGlyphs" >25</text>
<line x1="782.33" y1="629" x2="782.33" y2="631.5" stroke="#000" stroke-width="1.8" />
<line x1="782.33" y1="336.2" x2="782.33" y2="338.7" stroke="#000" stroke-width="1.8" />
<line x1="811.82" y1="629" x2="811.82" y2="634" stroke="#000" stroke-width="1.8" />
<line x1="811.82" y1="333.7" x2="811.82" y2="338.7" stroke="#000" stroke-width="1.8" />
<text x="811.82" y="649.6" font-size="14" text-anchor="middle" fill="#000" textLength="15.2" lengthAdjust="spacingAndGlyphs" >30</text>
<line x1="841.3" y1="629" x2="841.3" y2="631.5" stroke="#000" stroke-width="1.8" />
<line x1="841.3" y1="336.2" x2="841.3" y2="338.7" stroke="#000" stroke-width="1.8" />
<text x="509.8" y="372" font-size="29" text-anchor="start" fill="#000" font-weight="bold" textLength="13.3" lengthAdjust="spacingAndGlyphs" stroke="#000" stroke-width="0.7">F</text>
<text x="507.4" y="472.6" font-size="15.3" text-anchor="start" fill="#000" font-weight="bold" textLength="50.5" lengthAdjust="spacingAndGlyphs" >G’&lt; G”</text>
<text x="591.8" y="461.9" font-size="15.3" text-anchor="start" fill="#000" font-weight="bold" textLength="49.8" lengthAdjust="spacingAndGlyphs" >G’= G”</text>
<text x="739.3" y="408.8" font-size="15" text-anchor="start" fill="#000" font-weight="bold" textLength="51" lengthAdjust="spacingAndGlyphs" >G’&gt; G”</text>
<text x="507.6" y="576.4" font-size="16.5" text-anchor="start" fill="#000" font-weight="bold" textLength="36.1" lengthAdjust="spacingAndGlyphs" >Fluid</text>
<text x="692" y="574.7" font-size="16.5" text-anchor="start" fill="#000" font-weight="bold" textLength="25" lengthAdjust="spacingAndGlyphs" >Gel</text>
<rect x="738.3" y="602.3" width="98.2" height="18.3" fill="#fafcff" stroke="#333" stroke-width="1"/>
<rect x="750.6" y="607.4" width="8.2" height="8.2" fill="#444"/>
<text x="773.9" y="615.8" font-size="12.5" text-anchor="start" fill="#000" textLength="11.9" lengthAdjust="spacingAndGlyphs" >G'</text>
<circle cx="800.7" cy="611.5" r="4.4" fill="#e0252b"/>
<text x="819.5" y="615.8" font-size="12.5" text-anchor="start" fill="#000" textLength="15.5" lengthAdjust="spacingAndGlyphs" >G''</text>
<text x="446.9" y="494" font-size="17" text-anchor="middle" fill="#000" textLength="148" lengthAdjust="spacingAndGlyphs" transform="rotate(-90 446.9 494)" >Shear moduli (N/m)</text>
<text x="567.8" y="671" font-size="16.5" text-anchor="start" fill="#000" textLength="192.4" lengthAdjust="spacingAndGlyphs" >Surface pressure (mN/m)</text>
<line x1="919.27" y1="404.37" x2="919.27" y2="500.16" stroke="#d4906c" stroke-width="1.3" />
<line x1="916.02" y1="404.37" x2="922.52" y2="404.37" stroke="#a84050" stroke-width="1.5" />
<line x1="916.02" y1="500.16" x2="922.52" y2="500.16" stroke="#a84050" stroke-width="1.5" />
<line x1="1008.15" y1="457.06" x2="1008.15" y2="552.86" stroke="#d4906c" stroke-width="1.3" />
<line x1="1004.9" y1="457.06" x2="1011.4" y2="457.06" stroke="#a84050" stroke-width="1.5" />
<line x1="1004.9" y1="552.86" x2="1011.4" y2="552.86" stroke="#a84050" stroke-width="1.5" />
<line x1="1097.02" y1="548.07" x2="1097.02" y2="595.97" stroke="#d4906c" stroke-width="1.3" />
<line x1="1093.77" y1="548.07" x2="1100.27" y2="548.07" stroke="#a84050" stroke-width="1.5" />
<line x1="1093.77" y1="595.97" x2="1100.27" y2="595.97" stroke="#a84050" stroke-width="1.5" />
<line x1="919.27" y1="392.03" x2="919.27" y2="452.69" stroke="#6676b4" stroke-width="1.3" />
<line x1="916.02" y1="392.03" x2="922.52" y2="392.03" stroke="#2c3f7a" stroke-width="1.5" />
<line x1="916.02" y1="452.69" x2="922.52" y2="452.69" stroke="#2c3f7a" stroke-width="1.5" />
<line x1="1008.15" y1="445.11" x2="1008.15" y2="520.94" stroke="#6676b4" stroke-width="1.3" />
<line x1="1004.9" y1="445.11" x2="1011.4" y2="445.11" stroke="#2c3f7a" stroke-width="1.5" />
<line x1="1004.9" y1="520.94" x2="1011.4" y2="520.94" stroke="#2c3f7a" stroke-width="1.5" />
<line x1="1097.02" y1="498.19" x2="1097.02" y2="604.35" stroke="#6676b4" stroke-width="1.3" />
<line x1="1093.77" y1="498.19" x2="1100.27" y2="498.19" stroke="#2c3f7a" stroke-width="1.5" />
<line x1="1093.77" y1="604.35" x2="1100.27" y2="604.35" stroke="#2c3f7a" stroke-width="1.5" />
<line x1="916.02" y1="404.37" x2="922.52" y2="404.37" stroke="#b02850" stroke-width="1.6" />
<line x1="916.02" y1="500.16" x2="922.52" y2="500.16" stroke="#a84050" stroke-width="1.6" />
<line x1="1004.9" y1="457.06" x2="1011.4" y2="457.06" stroke="#b02850" stroke-width="1.6" />
<line x1="1004.9" y1="552.86" x2="1011.4" y2="552.86" stroke="#a84050" stroke-width="1.6" />
<line x1="1093.77" y1="548.07" x2="1100.27" y2="548.07" stroke="#b02850" stroke-width="1.6" />
<line x1="1093.77" y1="595.97" x2="1100.27" y2="595.97" stroke="#a84050" stroke-width="1.6" />
<circle cx="919.27" cy="422.36" r="4.8" fill="#2a5caa"/>
<circle cx="1008.15" cy="483.02" r="4.8" fill="#2a5caa"/>
<circle cx="1097.02" cy="551.27" r="4.8" fill="#2a5caa"/>
<circle cx="919.27" cy="452.26" r="4.8" fill="#cc1e3a"/>
<circle cx="1008.15" cy="504.96" r="4.8" fill="#cc1e3a"/>
<circle cx="1097.02" cy="572.01" r="4.8" fill="#cc1e3a"/>
<line x1="901.5" y1="339.7" x2="901.5" y2="628.1" stroke="#d61c24" stroke-width="2.2" />
<line x1="1114.8" y1="339.7" x2="1114.8" y2="628.1" stroke="#3060b0" stroke-width="2.2" />
<line x1="898.7" y1="339.7" x2="1114.8" y2="339.7" stroke="#000" stroke-width="1.8" />
<line x1="901.5" y1="627.1" x2="1114.8" y2="627.1" stroke="#000" stroke-width="1.8" />
<line x1="919.27" y1="334.2" x2="919.27" y2="344.7" stroke="#000" stroke-width="1.6" />
<line x1="919.27" y1="621.6" x2="919.27" y2="632.1" stroke="#000" stroke-width="1.6" />
<text x="919.27" y="646.1" font-size="11.5" text-anchor="middle" fill="#000" textLength="13.4" lengthAdjust="spacingAndGlyphs" >10</text>
<line x1="1008.15" y1="334.2" x2="1008.15" y2="344.7" stroke="#000" stroke-width="1.6" />
<line x1="1008.15" y1="621.6" x2="1008.15" y2="632.1" stroke="#000" stroke-width="1.6" />
<text x="1008.15" y="646.1" font-size="11.5" text-anchor="middle" fill="#000" textLength="13.4" lengthAdjust="spacingAndGlyphs" >20</text>
<line x1="1097.02" y1="334.2" x2="1097.02" y2="344.7" stroke="#000" stroke-width="1.6" />
<line x1="1097.02" y1="621.6" x2="1097.02" y2="632.1" stroke="#000" stroke-width="1.6" />
<text x="1097.02" y="646.1" font-size="11.5" text-anchor="middle" fill="#000" textLength="13.4" lengthAdjust="spacingAndGlyphs" >30</text>
<line x1="899.5" y1="627.1" x2="903.5" y2="627.1" stroke="#d61c24" stroke-width="1.8" />
<line x1="896" y1="603.15" x2="907" y2="603.15" stroke="#d61c24" stroke-width="1.8" />
<text x="891.3" y="606.75" font-size="14" text-anchor="end" fill="#c83030" textLength="8.2" lengthAdjust="spacingAndGlyphs" >8</text>
<line x1="899.5" y1="579.2" x2="903.5" y2="579.2" stroke="#d61c24" stroke-width="1.8" />
<line x1="896" y1="555.25" x2="907" y2="555.25" stroke="#d61c24" stroke-width="1.8" />
<text x="891.3" y="558.85" font-size="14" text-anchor="end" fill="#c83030" textLength="16.3" lengthAdjust="spacingAndGlyphs" >10</text>
<line x1="899.5" y1="531.3" x2="903.5" y2="531.3" stroke="#d61c24" stroke-width="1.8" />
<line x1="896" y1="507.35" x2="907" y2="507.35" stroke="#d61c24" stroke-width="1.8" />
<text x="891.3" y="510.95" font-size="14" text-anchor="end" fill="#c83030" textLength="16.3" lengthAdjust="spacingAndGlyphs" >12</text>
<line x1="899.5" y1="483.4" x2="903.5" y2="483.4" stroke="#d61c24" stroke-width="1.8" />
<line x1="896" y1="459.45" x2="907" y2="459.45" stroke="#d61c24" stroke-width="1.8" />
<text x="891.3" y="463.05" font-size="14" text-anchor="end" fill="#c83030" textLength="16.3" lengthAdjust="spacingAndGlyphs" >14</text>
<line x1="899.5" y1="435.5" x2="903.5" y2="435.5" stroke="#d61c24" stroke-width="1.8" />
<line x1="896" y1="411.55" x2="907" y2="411.55" stroke="#d61c24" stroke-width="1.8" />
<text x="891.3" y="415.15" font-size="14" text-anchor="end" fill="#c83030" textLength="16.3" lengthAdjust="spacingAndGlyphs" >16</text>
<line x1="899.5" y1="387.6" x2="903.5" y2="387.6" stroke="#d61c24" stroke-width="1.8" />
<line x1="896" y1="363.65" x2="907" y2="363.65" stroke="#d61c24" stroke-width="1.8" />
<text x="891.3" y="367.25" font-size="14" text-anchor="end" fill="#c83030" textLength="16.3" lengthAdjust="spacingAndGlyphs" >18</text>
<line x1="899.5" y1="339.7" x2="903.5" y2="339.7" stroke="#d61c24" stroke-width="1.8" />
<line x1="1114.8" y1="627.1" x2="1120.8" y2="627.1" stroke="#3060b0" stroke-width="1.8" />
<text x="1125.3" y="631.2" font-size="13.8" text-anchor="start" fill="#3a62a8" textLength="22.2" lengthAdjust="spacingAndGlyphs" >145</text>
<line x1="1114.8" y1="608.14" x2="1117.8" y2="608.14" stroke="#3060b0" stroke-width="1.8" />
<line x1="1114.8" y1="589.19" x2="1120.8" y2="589.19" stroke="#3060b0" stroke-width="1.8" />
<text x="1125.3" y="593.29" font-size="13.8" text-anchor="start" fill="#3a62a8" textLength="22.2" lengthAdjust="spacingAndGlyphs" >150</text>
<line x1="1114.8" y1="570.23" x2="1117.8" y2="570.23" stroke="#3060b0" stroke-width="1.8" />
<line x1="1114.8" y1="551.27" x2="1120.8" y2="551.27" stroke="#3060b0" stroke-width="1.8" />
<text x="1125.3" y="555.37" font-size="13.8" text-anchor="start" fill="#3a62a8" textLength="22.2" lengthAdjust="spacingAndGlyphs" >155</text>
<line x1="1114.8" y1="532.31" x2="1117.8" y2="532.31" stroke="#3060b0" stroke-width="1.8" />
<line x1="1114.8" y1="513.36" x2="1120.8" y2="513.36" stroke="#3060b0" stroke-width="1.8" />
<text x="1125.3" y="517.46" font-size="13.8" text-anchor="start" fill="#3a62a8" textLength="22.2" lengthAdjust="spacingAndGlyphs" >160</text>
<line x1="1114.8" y1="494.4" x2="1117.8" y2="494.4" stroke="#3060b0" stroke-width="1.8" />
<line x1="1114.8" y1="475.44" x2="1120.8" y2="475.44" stroke="#3060b0" stroke-width="1.8" />
<text x="1125.3" y="479.54" font-size="13.8" text-anchor="start" fill="#3a62a8" textLength="22.2" lengthAdjust="spacingAndGlyphs" >165</text>
<line x1="1114.8" y1="456.48" x2="1117.8" y2="456.48" stroke="#3060b0" stroke-width="1.8" />
<line x1="1114.8" y1="437.52" x2="1120.8" y2="437.52" stroke="#3060b0" stroke-width="1.8" />
<text x="1125.3" y="441.62" font-size="13.8" text-anchor="start" fill="#3a62a8" textLength="22.2" lengthAdjust="spacingAndGlyphs" >170</text>
<line x1="1114.8" y1="418.57" x2="1117.8" y2="418.57" stroke="#3060b0" stroke-width="1.8" />
<line x1="1114.8" y1="399.61" x2="1120.8" y2="399.61" stroke="#3060b0" stroke-width="1.8" />
<text x="1125.3" y="403.71" font-size="13.8" text-anchor="start" fill="#3a62a8" textLength="22.2" lengthAdjust="spacingAndGlyphs" >175</text>
<line x1="1114.8" y1="380.65" x2="1117.8" y2="380.65" stroke="#3060b0" stroke-width="1.8" />
<line x1="1114.8" y1="361.69" x2="1120.8" y2="361.69" stroke="#3060b0" stroke-width="1.8" />
<text x="1125.3" y="365.8" font-size="13.8" text-anchor="start" fill="#3a62a8" textLength="22.2" lengthAdjust="spacingAndGlyphs" >180</text>
<text x="917.6" y="370.8" font-size="29" text-anchor="start" fill="#000" font-weight="bold" textLength="19" lengthAdjust="spacingAndGlyphs" stroke="#000" stroke-width="0.7">G</text>
<text x="868.3" y="482" font-size="17" text-anchor="middle" fill="#d62a2a" textLength="140.5" lengthAdjust="spacingAndGlyphs" transform="rotate(-90 868.3 482)" >Interdistance (nm)</text>
<text x="1167.2" y="482.1" font-size="17" text-anchor="middle" fill="#3a62a8" textLength="102.8" lengthAdjust="spacingAndGlyphs" transform="rotate(-90 1167.2 482.1)" >Curvature (°)</text>
<text x="910.2" y="671.4" font-size="16.6" text-anchor="start" fill="#000" textLength="197" lengthAdjust="spacingAndGlyphs" >Surface pressure (mN/m)</text>
</svg>
</body></html>
